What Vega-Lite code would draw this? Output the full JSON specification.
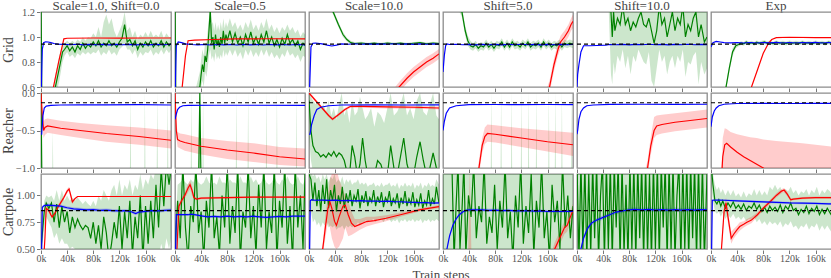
{
"$schema":"https://vega.github.io/schema/vega-lite/v6.json",
"padding":{"left":1,"right":0,"top":0,"bottom":0},
"spacing":-5.5,
"config":{
 "font":"Liberation Serif",
 "concat":{"spacing":-5.5},
 "view":{"stroke":"#8c8c8c","strokeWidth":1.3},
 "axis":{"grid":false,"domain":false,"tickColor":"#777","tickSize":3.5,"labelColor":"#555","labelFontSize":10.5,"labelFont":"Liberation Serif","titleFont":"Liberation Serif","titleFontSize":14,"titleFontWeight":"normal","titleColor":"#444","labelOverlap":false,"labelBound":false},
 "header":{"labelFont":"Liberation Serif","labelFontSize":13,"labelColor":"#444","titleFont":"Liberation Serif","titleFontSize":13,"titleFontWeight":"normal","titleColor":"#444"}
},
"vconcat":[
{
 "data":{"values":[
  {"c":1,"s":"g","x":0,"y":1.3,"l":1.3,"h":1.3},{"c":1,"s":"g","x":1.5,"y":0.4,"l":0.3,"h":0.5},{"c":1,"s":"g","x":18,"y":0.45,"l":0.35,"h":0.55},{"c":1,"s":"g","x":22,"y":0.6,"l":0.5,"h":0.7},{"c":1,"s":"g","x":28,"y":0.75,"l":0.65,"h":0.85},{"c":1,"s":"g","x":33,"y":0.88,"l":0.8,"h":0.94},{"c":1,"s":"g","x":36,"y":0.9,"l":0.85,"h":0.95},{"c":1,"s":"g","x":40,"y":0.93,"l":0.88,"h":0.97},{"c":1,"s":"g","x":44,"y":0.89,"l":0.84,"h":0.95},{"c":1,"s":"g","x":48,"y":0.92,"l":0.86,"h":0.97},{"c":1,"s":"g","x":52,"y":0.88,"l":0.83,"h":0.95},{"c":1,"s":"g","x":56,"y":0.93,"l":0.87,"h":0.98},{"c":1,"s":"g","x":60,"y":0.9,"l":0.85,"h":0.96},{"c":1,"s":"g","x":64,"y":0.95,"l":0.88,"h":1.0},{"c":1,"s":"g","x":68,"y":0.91,"l":0.86,"h":0.97},{"c":1,"s":"g","x":72,"y":0.94,"l":0.88,"h":1.0},{"c":1,"s":"g","x":76,"y":0.92,"l":0.86,"h":0.99},{"c":1,"s":"g","x":80,"y":0.96,"l":0.88,"h":1.03},{"c":1,"s":"g","x":84,"y":0.93,"l":0.87,"h":1.0},{"c":1,"s":"g","x":88,"y":0.97,"l":0.9,"h":1.08},{"c":1,"s":"g","x":92,"y":0.92,"l":0.85,"h":1.0},{"c":1,"s":"g","x":96,"y":0.95,"l":0.88,"h":1.12},{"c":1,"s":"g","x":100,"y":0.93,"l":0.86,"h":1.18},{"c":1,"s":"g","x":104,"y":0.97,"l":0.9,"h":1.1},{"c":1,"s":"g","x":108,"y":0.93,"l":0.86,"h":1.15},{"c":1,"s":"g","x":112,"y":0.95,"l":0.88,"h":1.05},{"c":1,"s":"g","x":116,"y":0.92,"l":0.85,"h":1.0},{"c":1,"s":"g","x":120,"y":0.96,"l":0.9,"h":1.05},{"c":1,"s":"g","x":124,"y":0.99,"l":0.92,"h":1.1},{"c":1,"s":"g","x":128,"y":1.1,"l":0.95,"h":1.2},{"c":1,"s":"g","x":132,"y":0.96,"l":0.9,"h":1.05},{"c":1,"s":"g","x":136,"y":0.98,"l":0.9,"h":1.08},{"c":1,"s":"g","x":140,"y":0.93,"l":0.86,"h":1.0},{"c":1,"s":"g","x":144,"y":0.97,"l":0.9,"h":1.05},{"c":1,"s":"g","x":148,"y":0.9,"l":0.83,"h":0.98},{"c":1,"s":"g","x":152,"y":0.95,"l":0.88,"h":1.02},{"c":1,"s":"g","x":156,"y":0.92,"l":0.85,"h":1.0},{"c":1,"s":"g","x":160,"y":0.96,"l":0.88,"h":1.04},{"c":1,"s":"g","x":164,"y":0.93,"l":0.87,"h":1.0},{"c":1,"s":"g","x":168,"y":0.97,"l":0.9,"h":1.05},{"c":1,"s":"g","x":172,"y":0.92,"l":0.85,"h":1.0},{"c":1,"s":"g","x":176,"y":0.95,"l":0.88,"h":1.02},{"c":1,"s":"g","x":180,"y":0.93,"l":0.86,"h":1.0},{"c":1,"s":"g","x":184,"y":0.97,"l":0.9,"h":1.05},{"c":1,"s":"g","x":188,"y":0.92,"l":0.86,"h":0.99},{"c":1,"s":"g","x":192,"y":0.96,"l":0.9,"h":1.03},{"c":1,"s":"g","x":196,"y":0.93,"l":0.87,"h":1.0},{"c":1,"s":"g","x":199,"y":0.95,"l":0.9,"h":1.0},
  {"c":1,"s":"r","x":0,"y":0.2},{"c":1,"s":"r","x":10,"y":0.35},{"c":1,"s":"r","x":19,"y":0.6},{"c":1,"s":"r","x":27,"y":0.8},{"c":1,"s":"r","x":35,"y":0.985},{"c":1,"s":"r","x":40,"y":0.99},{"c":1,"s":"r","x":80,"y":0.992},{"c":1,"s":"r","x":120,"y":0.991},{"c":1,"s":"r","x":160,"y":0.992},{"c":1,"s":"r","x":199,"y":0.992},
  {"c":1,"s":"b","x":0,"y":0.5},{"c":1,"s":"b","x":2,"y":0.9},{"c":1,"s":"b","x":4,"y":0.955},{"c":1,"s":"b","x":7,"y":0.962},{"c":1,"s":"b","x":11,"y":0.96},{"c":1,"s":"b","x":15,"y":0.955},{"c":1,"s":"b","x":20,"y":0.948},{"c":1,"s":"b","x":26,"y":0.943},{"c":1,"s":"b","x":35,"y":0.941},{"c":1,"s":"b","x":45,"y":0.938},{"c":1,"s":"b","x":55,"y":0.942},{"c":1,"s":"b","x":65,"y":0.937},{"c":1,"s":"b","x":75,"y":0.941},{"c":1,"s":"b","x":85,"y":0.938},{"c":1,"s":"b","x":95,"y":0.941},{"c":1,"s":"b","x":105,"y":0.937},{"c":1,"s":"b","x":115,"y":0.941},{"c":1,"s":"b","x":125,"y":0.938},{"c":1,"s":"b","x":135,"y":0.941},{"c":1,"s":"b","x":145,"y":0.937},{"c":1,"s":"b","x":155,"y":0.94},{"c":1,"s":"b","x":165,"y":0.937},{"c":1,"s":"b","x":175,"y":0.941},{"c":1,"s":"b","x":185,"y":0.938},{"c":1,"s":"b","x":199,"y":0.94},

  {"c":2,"s":"g","x":0,"y":1.3,"l":1.3,"h":1.3},{"c":2,"s":"g","x":1.5,"y":0.4,"l":0.3,"h":0.5},{"c":2,"s":"g","x":30,"y":0.45,"l":0.35,"h":0.55},{"c":2,"s":"g","x":38,"y":0.6,"l":0.5,"h":0.72},{"c":2,"s":"g","x":40,"y":0.7,"l":0.6,"h":0.82},{"c":2,"s":"g","x":42,"y":0.78,"l":0.65,"h":0.9},{"c":2,"s":"g","x":44,"y":0.72,"l":0.6,"h":0.85},{"c":2,"s":"g","x":46,"y":0.85,"l":0.72,"h":0.95},{"c":2,"s":"g","x":48,"y":0.8,"l":0.68,"h":0.95},{"c":2,"s":"g","x":50,"y":0.9,"l":0.75,"h":1.05},{"c":2,"s":"g","x":52,"y":1.05,"l":0.85,"h":1.15},{"c":2,"s":"g","x":54,"y":1.22,"l":0.9,"h":1.25},{"c":2,"s":"g","x":56,"y":0.95,"l":0.82,"h":1.1},{"c":2,"s":"g","x":58,"y":1.0,"l":0.85,"h":1.12},{"c":2,"s":"g","x":60,"y":0.9,"l":0.8,"h":1.05},{"c":2,"s":"g","x":62,"y":1.02,"l":0.88,"h":1.12},{"c":2,"s":"g","x":64,"y":0.93,"l":0.82,"h":1.05},{"c":2,"s":"g","x":66,"y":0.98,"l":0.85,"h":1.1},{"c":2,"s":"g","x":68,"y":0.92,"l":0.82,"h":1.05},{"c":2,"s":"g","x":70,"y":1.0,"l":0.86,"h":1.12},{"c":2,"s":"g","x":72,"y":0.94,"l":0.83,"h":1.06},{"c":2,"s":"g","x":74,"y":1.05,"l":0.9,"h":1.15},{"c":2,"s":"g","x":76,"y":0.95,"l":0.84,"h":1.07},{"c":2,"s":"g","x":78,"y":1.02,"l":0.88,"h":1.12},{"c":2,"s":"g","x":80,"y":0.97,"l":0.85,"h":1.08},{"c":2,"s":"g","x":84,"y":1.05,"l":0.9,"h":1.15},{"c":2,"s":"g","x":88,"y":0.96,"l":0.85,"h":1.08},{"c":2,"s":"g","x":92,"y":1.03,"l":0.9,"h":1.12},{"c":2,"s":"g","x":96,"y":0.95,"l":0.84,"h":1.06},{"c":2,"s":"g","x":100,"y":1.0,"l":0.88,"h":1.1},{"c":2,"s":"g","x":104,"y":0.93,"l":0.82,"h":1.05},{"c":2,"s":"g","x":108,"y":1.02,"l":0.9,"h":1.12},{"c":2,"s":"g","x":112,"y":0.96,"l":0.85,"h":1.07},{"c":2,"s":"g","x":116,"y":1.04,"l":0.9,"h":1.14},{"c":2,"s":"g","x":120,"y":0.95,"l":0.84,"h":1.06},{"c":2,"s":"g","x":124,"y":1.0,"l":0.88,"h":1.1},{"c":2,"s":"g","x":128,"y":0.94,"l":0.84,"h":1.05},{"c":2,"s":"g","x":132,"y":1.02,"l":0.9,"h":1.12},{"c":2,"s":"g","x":136,"y":0.96,"l":0.85,"h":1.07},{"c":2,"s":"g","x":140,"y":1.05,"l":0.9,"h":1.15},{"c":2,"s":"g","x":144,"y":0.95,"l":0.84,"h":1.06},{"c":2,"s":"g","x":148,"y":1.0,"l":0.88,"h":1.1},{"c":2,"s":"g","x":152,"y":0.93,"l":0.83,"h":1.04},{"c":2,"s":"g","x":156,"y":0.98,"l":0.86,"h":1.08},{"c":2,"s":"g","x":160,"y":0.92,"l":0.82,"h":1.03},{"c":2,"s":"g","x":164,"y":0.99,"l":0.87,"h":1.08},{"c":2,"s":"g","x":168,"y":0.94,"l":0.84,"h":1.05},{"c":2,"s":"g","x":172,"y":1.02,"l":0.9,"h":1.1},{"c":2,"s":"g","x":176,"y":0.95,"l":0.85,"h":1.05},{"c":2,"s":"g","x":180,"y":0.98,"l":0.87,"h":1.08},{"c":2,"s":"g","x":184,"y":0.93,"l":0.83,"h":1.03},{"c":2,"s":"g","x":188,"y":0.97,"l":0.86,"h":1.06},{"c":2,"s":"g","x":192,"y":0.9,"l":0.8,"h":1.0},{"c":2,"s":"g","x":196,"y":0.95,"l":0.85,"h":1.04},{"c":2,"s":"g","x":199,"y":0.93,"l":0.84,"h":1.02},
  {"c":2,"s":"r","x":0,"y":0.2},{"c":2,"s":"r","x":8,"y":0.4},{"c":2,"s":"r","x":11,"y":0.6},{"c":2,"s":"r","x":16,"y":0.85},{"c":2,"s":"r","x":20,"y":0.97},{"c":2,"s":"r","x":30,"y":0.975},{"c":2,"s":"r","x":60,"y":0.98},{"c":2,"s":"r","x":90,"y":0.985},{"c":2,"s":"r","x":140,"y":0.986},{"c":2,"s":"r","x":199,"y":0.985},
  {"c":2,"s":"b","x":0,"y":0.5},{"c":2,"s":"b","x":2,"y":0.93},{"c":2,"s":"b","x":5,"y":0.96},{"c":2,"s":"b","x":10,"y":0.955},{"c":2,"s":"b","x":16,"y":0.945},{"c":2,"s":"b","x":25,"y":0.94},{"c":2,"s":"b","x":35,"y":0.937},{"c":2,"s":"b","x":45,"y":0.94},{"c":2,"s":"b","x":55,"y":0.936},{"c":2,"s":"b","x":65,"y":0.94},{"c":2,"s":"b","x":75,"y":0.937},{"c":2,"s":"b","x":85,"y":0.94},{"c":2,"s":"b","x":95,"y":0.936},{"c":2,"s":"b","x":105,"y":0.94},{"c":2,"s":"b","x":115,"y":0.937},{"c":2,"s":"b","x":125,"y":0.94},{"c":2,"s":"b","x":135,"y":0.936},{"c":2,"s":"b","x":145,"y":0.94},{"c":2,"s":"b","x":155,"y":0.937},{"c":2,"s":"b","x":165,"y":0.94},{"c":2,"s":"b","x":175,"y":0.936},{"c":2,"s":"b","x":185,"y":0.94},{"c":2,"s":"b","x":199,"y":0.937},

  {"c":3,"s":"g","x":0,"y":1.6,"l":1.58,"h":1.62},{"c":3,"s":"g","x":20,"y":1.35,"l":1.33,"h":1.37},{"c":3,"s":"g","x":37,"y":1.2,"l":1.18,"h":1.22},{"c":3,"s":"g","x":45,"y":1.1,"l":1.08,"h":1.12},{"c":3,"s":"g","x":52,"y":1.02,"l":1.0,"h":1.04},{"c":3,"s":"g","x":58,"y":0.98,"l":0.965,"h":0.995},{"c":3,"s":"g","x":64,"y":0.955,"l":0.94,"h":0.97},{"c":3,"s":"g","x":70,"y":0.948,"l":0.938,"h":0.958},{"c":3,"s":"g","x":80,"y":0.952,"l":0.942,"h":0.962},{"c":3,"s":"g","x":90,"y":0.945,"l":0.935,"h":0.955},{"c":3,"s":"g","x":100,"y":0.951,"l":0.941,"h":0.961},{"c":3,"s":"g","x":110,"y":0.944,"l":0.934,"h":0.954},{"c":3,"s":"g","x":120,"y":0.952,"l":0.942,"h":0.962},{"c":3,"s":"g","x":130,"y":0.946,"l":0.936,"h":0.956},{"c":3,"s":"g","x":140,"y":0.951,"l":0.941,"h":0.961},{"c":3,"s":"g","x":150,"y":0.944,"l":0.934,"h":0.954},{"c":3,"s":"g","x":160,"y":0.95,"l":0.94,"h":0.96},{"c":3,"s":"g","x":170,"y":0.955,"l":0.945,"h":0.965},{"c":3,"s":"g","x":180,"y":0.946,"l":0.936,"h":0.956},{"c":3,"s":"g","x":190,"y":0.952,"l":0.942,"h":0.962},{"c":3,"s":"g","x":199,"y":0.948,"l":0.938,"h":0.958},
  {"c":3,"s":"r","x":0,"y":0.0,"l":-0.04,"h":0.04},{"c":3,"s":"r","x":100,"y":0.35,"l":0.31,"h":0.39},{"c":3,"s":"r","x":138,"y":0.6,"l":0.56,"h":0.64},{"c":3,"s":"r","x":150,"y":0.67,"l":0.63,"h":0.71},{"c":3,"s":"r","x":160,"y":0.72,"l":0.68,"h":0.76},{"c":3,"s":"r","x":170,"y":0.76,"l":0.72,"h":0.8},{"c":3,"s":"r","x":180,"y":0.8,"l":0.76,"h":0.84},{"c":3,"s":"r","x":190,"y":0.83,"l":0.79,"h":0.87},{"c":3,"s":"r","x":199,"y":0.865,"l":0.825,"h":0.905},
  {"c":3,"s":"b","x":0,"y":0.3},{"c":3,"s":"b","x":1,"y":0.6},{"c":3,"s":"b","x":3,"y":0.92},{"c":3,"s":"b","x":6,"y":0.95},{"c":3,"s":"b","x":10,"y":0.952},{"c":3,"s":"b","x":20,"y":0.945},{"c":3,"s":"b","x":28,"y":0.935},{"c":3,"s":"b","x":35,"y":0.928},{"c":3,"s":"b","x":42,"y":0.935},{"c":3,"s":"b","x":50,"y":0.945},{"c":3,"s":"b","x":60,"y":0.942},{"c":3,"s":"b","x":70,"y":0.946},{"c":3,"s":"b","x":80,"y":0.942},{"c":3,"s":"b","x":90,"y":0.945},{"c":3,"s":"b","x":100,"y":0.941},{"c":3,"s":"b","x":110,"y":0.945},{"c":3,"s":"b","x":120,"y":0.942},{"c":3,"s":"b","x":130,"y":0.946},{"c":3,"s":"b","x":140,"y":0.942},{"c":3,"s":"b","x":150,"y":0.945},{"c":3,"s":"b","x":160,"y":0.941},{"c":3,"s":"b","x":170,"y":0.945},{"c":3,"s":"b","x":180,"y":0.942},{"c":3,"s":"b","x":190,"y":0.945},{"c":3,"s":"b","x":199,"y":0.942},

  {"c":4,"s":"g","x":0,"y":1.7,"l":1.65,"h":1.75},{"c":4,"s":"g","x":20,"y":1.3,"l":1.26,"h":1.34},{"c":4,"s":"g","x":29,"y":1.2,"l":1.16,"h":1.24},{"c":4,"s":"g","x":34,"y":1.05,"l":1.01,"h":1.09},{"c":4,"s":"g","x":38,"y":0.97,"l":0.93,"h":1.01},{"c":4,"s":"g","x":42,"y":0.93,"l":0.9,"h":0.97},{"c":4,"s":"g","x":46,"y":0.92,"l":0.89,"h":0.95},{"c":4,"s":"g","x":50,"y":0.94,"l":0.91,"h":0.97},{"c":4,"s":"g","x":54,"y":0.91,"l":0.88,"h":0.94},{"c":4,"s":"g","x":58,"y":0.93,"l":0.9,"h":0.96},{"c":4,"s":"g","x":62,"y":0.92,"l":0.89,"h":0.95},{"c":4,"s":"g","x":66,"y":0.95,"l":0.92,"h":0.98},{"c":4,"s":"g","x":70,"y":0.92,"l":0.89,"h":0.95},{"c":4,"s":"g","x":74,"y":0.94,"l":0.91,"h":0.97},{"c":4,"s":"g","x":78,"y":0.91,"l":0.88,"h":0.94},{"c":4,"s":"g","x":82,"y":0.94,"l":0.91,"h":0.97},{"c":4,"s":"g","x":86,"y":0.93,"l":0.9,"h":0.96},{"c":4,"s":"g","x":90,"y":0.96,"l":0.93,"h":0.99},{"c":4,"s":"g","x":94,"y":0.92,"l":0.89,"h":0.95},{"c":4,"s":"g","x":98,"y":0.95,"l":0.92,"h":0.98},{"c":4,"s":"g","x":102,"y":0.92,"l":0.89,"h":0.95},{"c":4,"s":"g","x":106,"y":0.96,"l":0.93,"h":0.99},{"c":4,"s":"g","x":110,"y":0.93,"l":0.9,"h":0.96},{"c":4,"s":"g","x":114,"y":0.94,"l":0.91,"h":0.97},{"c":4,"s":"g","x":118,"y":0.92,"l":0.89,"h":0.95},{"c":4,"s":"g","x":122,"y":0.95,"l":0.92,"h":0.98},{"c":4,"s":"g","x":126,"y":0.93,"l":0.9,"h":0.96},{"c":4,"s":"g","x":130,"y":0.96,"l":0.93,"h":0.99},{"c":4,"s":"g","x":134,"y":0.92,"l":0.89,"h":0.95},{"c":4,"s":"g","x":138,"y":0.94,"l":0.91,"h":0.97},{"c":4,"s":"g","x":142,"y":0.93,"l":0.9,"h":0.96},{"c":4,"s":"g","x":146,"y":0.95,"l":0.92,"h":0.98},{"c":4,"s":"g","x":150,"y":0.92,"l":0.89,"h":0.95},{"c":4,"s":"g","x":154,"y":0.96,"l":0.93,"h":0.99},{"c":4,"s":"g","x":158,"y":0.93,"l":0.9,"h":0.96},{"c":4,"s":"g","x":162,"y":0.95,"l":0.92,"h":0.98},{"c":4,"s":"g","x":166,"y":0.92,"l":0.89,"h":0.95},{"c":4,"s":"g","x":170,"y":0.94,"l":0.91,"h":0.97},{"c":4,"s":"g","x":174,"y":0.93,"l":0.9,"h":0.96},{"c":4,"s":"g","x":178,"y":0.95,"l":0.92,"h":0.98},{"c":4,"s":"g","x":182,"y":0.92,"l":0.89,"h":0.95},{"c":4,"s":"g","x":186,"y":0.95,"l":0.92,"h":0.98},{"c":4,"s":"g","x":190,"y":0.94,"l":0.91,"h":0.97},{"c":4,"s":"g","x":194,"y":0.95,"l":0.92,"h":0.98},{"c":4,"s":"g","x":199,"y":0.94,"l":0.91,"h":0.97},
  {"c":4,"s":"r","x":150,"y":0.4,"l":0.35,"h":0.45},{"c":4,"s":"r","x":163,"y":0.6,"l":0.55,"h":0.65},{"c":4,"s":"r","x":170,"y":0.78,"l":0.73,"h":0.83},{"c":4,"s":"r","x":176,"y":0.9,"l":0.85,"h":0.95},{"c":4,"s":"r","x":180,"y":0.96,"l":0.91,"h":1.01},{"c":4,"s":"r","x":186,"y":1.0,"l":0.95,"h":1.05},{"c":4,"s":"r","x":192,"y":1.05,"l":1.0,"h":1.1},{"c":4,"s":"r","x":196,"y":1.1,"l":1.05,"h":1.15},{"c":4,"s":"r","x":199,"y":1.125,"l":1.07,"h":1.18},
  {"c":4,"s":"b","x":0,"y":0.72},{"c":4,"s":"b","x":2,"y":0.85},{"c":4,"s":"b","x":4,"y":0.93},{"c":4,"s":"b","x":6,"y":0.945},{"c":4,"s":"b","x":10,"y":0.94},{"c":4,"s":"b","x":20,"y":0.942},{"c":4,"s":"b","x":30,"y":0.938},{"c":4,"s":"b","x":40,"y":0.941},{"c":4,"s":"b","x":50,"y":0.937},{"c":4,"s":"b","x":60,"y":0.941},{"c":4,"s":"b","x":70,"y":0.938},{"c":4,"s":"b","x":80,"y":0.941},{"c":4,"s":"b","x":90,"y":0.937},{"c":4,"s":"b","x":100,"y":0.941},{"c":4,"s":"b","x":110,"y":0.938},{"c":4,"s":"b","x":120,"y":0.942},{"c":4,"s":"b","x":130,"y":0.938},{"c":4,"s":"b","x":140,"y":0.941},{"c":4,"s":"b","x":150,"y":0.937},{"c":4,"s":"b","x":160,"y":0.941},{"c":4,"s":"b","x":170,"y":0.938},{"c":4,"s":"b","x":180,"y":0.941},{"c":4,"s":"b","x":190,"y":0.938},{"c":4,"s":"b","x":199,"y":0.941},

  {"c":5,"s":"g","x":48,"y":1.5,"l":1.3,"h":1.6},{"c":5,"s":"g","x":52,"y":1.2,"l":0.7,"h":1.3},{"c":5,"s":"g","x":54,"y":1.0,"l":0.62,"h":1.3},{"c":5,"s":"g","x":56,"y":1.2,"l":0.8,"h":1.3},{"c":5,"s":"g","x":58,"y":1.05,"l":0.7,"h":1.3},{"c":5,"s":"g","x":62,"y":1.15,"l":0.85,"h":1.3},{"c":5,"s":"g","x":66,"y":1.1,"l":0.8,"h":1.3},{"c":5,"s":"g","x":70,"y":1.25,"l":0.9,"h":1.3},{"c":5,"s":"g","x":74,"y":1.1,"l":0.75,"h":1.3},{"c":5,"s":"g","x":78,"y":1.15,"l":0.85,"h":1.3},{"c":5,"s":"g","x":82,"y":1.05,"l":0.7,"h":1.3},{"c":5,"s":"g","x":86,"y":1.12,"l":0.85,"h":1.3},{"c":5,"s":"g","x":90,"y":1.08,"l":0.8,"h":1.3},{"c":5,"s":"g","x":94,"y":1.15,"l":0.9,"h":1.3},{"c":5,"s":"g","x":98,"y":1.2,"l":0.85,"h":1.3},{"c":5,"s":"g","x":102,"y":1.1,"l":0.8,"h":1.3},{"c":5,"s":"g","x":106,"y":1.08,"l":0.78,"h":1.3},{"c":5,"s":"g","x":110,"y":1.15,"l":0.88,"h":1.3},{"c":5,"s":"g","x":114,"y":1.05,"l":0.65,"h":1.3},{"c":5,"s":"g","x":118,"y":0.95,"l":0.6,"h":1.25},{"c":5,"s":"g","x":122,"y":1.05,"l":0.75,"h":1.3},{"c":5,"s":"g","x":126,"y":1.25,"l":0.9,"h":1.3},{"c":5,"s":"g","x":130,"y":1.1,"l":0.8,"h":1.3},{"c":5,"s":"g","x":134,"y":1.15,"l":0.85,"h":1.3},{"c":5,"s":"g","x":138,"y":1.0,"l":0.7,"h":1.3},{"c":5,"s":"g","x":142,"y":1.1,"l":0.8,"h":1.3},{"c":5,"s":"g","x":146,"y":1.2,"l":0.85,"h":1.3},{"c":5,"s":"g","x":150,"y":1.05,"l":0.75,"h":1.3},{"c":5,"s":"g","x":154,"y":1.15,"l":0.85,"h":1.3},{"c":5,"s":"g","x":158,"y":1.1,"l":0.8,"h":1.3},{"c":5,"s":"g","x":162,"y":1.25,"l":0.9,"h":1.3},{"c":5,"s":"g","x":166,"y":1.0,"l":0.68,"h":1.3},{"c":5,"s":"g","x":170,"y":1.1,"l":0.8,"h":1.3},{"c":5,"s":"g","x":174,"y":1.05,"l":0.78,"h":1.3},{"c":5,"s":"g","x":178,"y":1.15,"l":0.85,"h":1.3},{"c":5,"s":"g","x":182,"y":1.2,"l":0.88,"h":1.3},{"c":5,"s":"g","x":186,"y":1.0,"l":0.62,"h":1.3},{"c":5,"s":"g","x":190,"y":1.1,"l":0.8,"h":1.3},{"c":5,"s":"g","x":195,"y":0.96,"l":0.7,"h":1.3},{"c":5,"s":"g","x":199,"y":1.0,"l":0.75,"h":1.3},
  {"c":5,"s":"b","x":0,"y":0.6},{"c":5,"s":"b","x":1,"y":0.7},{"c":5,"s":"b","x":3,"y":0.78},{"c":5,"s":"b","x":6,"y":0.88},{"c":5,"s":"b","x":10,"y":0.93},{"c":5,"s":"b","x":20,"y":0.93},{"c":5,"s":"b","x":30,"y":0.932},{"c":5,"s":"b","x":44,"y":0.935},{"c":5,"s":"b","x":50,"y":0.94},{"c":5,"s":"b","x":60,"y":0.938},{"c":5,"s":"b","x":70,"y":0.941},{"c":5,"s":"b","x":80,"y":0.937},{"c":5,"s":"b","x":90,"y":0.941},{"c":5,"s":"b","x":100,"y":0.938},{"c":5,"s":"b","x":110,"y":0.942},{"c":5,"s":"b","x":120,"y":0.938},{"c":5,"s":"b","x":130,"y":0.941},{"c":5,"s":"b","x":140,"y":0.937},{"c":5,"s":"b","x":150,"y":0.941},{"c":5,"s":"b","x":160,"y":0.938},{"c":5,"s":"b","x":170,"y":0.942},{"c":5,"s":"b","x":180,"y":0.938},{"c":5,"s":"b","x":190,"y":0.941},{"c":5,"s":"b","x":199,"y":0.939},

  {"c":6,"s":"g","x":0,"y":0.3,"l":0.28,"h":0.32},{"c":6,"s":"g","x":18,"y":0.45,"l":0.42,"h":0.48},{"c":6,"s":"g","x":23,"y":0.6,"l":0.57,"h":0.63},{"c":6,"s":"g","x":28,"y":0.75,"l":0.72,"h":0.78},{"c":6,"s":"g","x":33,"y":0.88,"l":0.85,"h":0.91},{"c":6,"s":"g","x":38,"y":0.93,"l":0.91,"h":0.95},{"c":6,"s":"g","x":42,"y":0.94,"l":0.925,"h":0.955},{"c":6,"s":"g","x":46,"y":0.952,"l":0.937,"h":0.967},{"c":6,"s":"g","x":50,"y":0.945,"l":0.93,"h":0.96},{"c":6,"s":"g","x":54,"y":0.96,"l":0.945,"h":0.975},{"c":6,"s":"g","x":58,"y":0.948,"l":0.933,"h":0.963},{"c":6,"s":"g","x":62,"y":0.955,"l":0.94,"h":0.97},{"c":6,"s":"g","x":66,"y":0.946,"l":0.931,"h":0.961},{"c":6,"s":"g","x":70,"y":0.958,"l":0.943,"h":0.973},{"c":6,"s":"g","x":74,"y":0.95,"l":0.935,"h":0.965},{"c":6,"s":"g","x":78,"y":0.955,"l":0.94,"h":0.97},{"c":6,"s":"g","x":82,"y":0.96,"l":0.945,"h":0.975},{"c":6,"s":"g","x":86,"y":0.95,"l":0.935,"h":0.965},{"c":6,"s":"g","x":90,"y":0.957,"l":0.942,"h":0.972},{"c":6,"s":"g","x":95,"y":0.948,"l":0.933,"h":0.963},{"c":6,"s":"g","x":100,"y":0.958,"l":0.943,"h":0.973},{"c":6,"s":"g","x":105,"y":0.95,"l":0.935,"h":0.965},{"c":6,"s":"g","x":110,"y":0.956,"l":0.941,"h":0.971},{"c":6,"s":"g","x":115,"y":0.948,"l":0.933,"h":0.963},{"c":6,"s":"g","x":120,"y":0.957,"l":0.942,"h":0.972},{"c":6,"s":"g","x":125,"y":0.95,"l":0.935,"h":0.965},{"c":6,"s":"g","x":130,"y":0.956,"l":0.941,"h":0.971},{"c":6,"s":"g","x":135,"y":0.949,"l":0.934,"h":0.964},{"c":6,"s":"g","x":140,"y":0.958,"l":0.943,"h":0.973},{"c":6,"s":"g","x":145,"y":0.95,"l":0.935,"h":0.965},{"c":6,"s":"g","x":150,"y":0.955,"l":0.94,"h":0.97},{"c":6,"s":"g","x":155,"y":0.948,"l":0.933,"h":0.963},{"c":6,"s":"g","x":160,"y":0.957,"l":0.942,"h":0.972},{"c":6,"s":"g","x":165,"y":0.95,"l":0.935,"h":0.965},{"c":6,"s":"g","x":170,"y":0.956,"l":0.941,"h":0.971},{"c":6,"s":"g","x":175,"y":0.948,"l":0.933,"h":0.963},{"c":6,"s":"g","x":180,"y":0.958,"l":0.943,"h":0.973},{"c":6,"s":"g","x":185,"y":0.95,"l":0.935,"h":0.965},{"c":6,"s":"g","x":190,"y":0.962,"l":0.947,"h":0.977},{"c":6,"s":"g","x":195,"y":0.95,"l":0.935,"h":0.965},{"c":6,"s":"g","x":199,"y":0.955,"l":0.94,"h":0.97},
  {"c":6,"s":"r","x":40,"y":0.2},{"c":6,"s":"r","x":62,"y":0.6},{"c":6,"s":"r","x":72,"y":0.75},{"c":6,"s":"r","x":80,"y":0.87},{"c":6,"s":"r","x":88,"y":0.95},{"c":6,"s":"r","x":93,"y":0.98},{"c":6,"s":"r","x":100,"y":0.995},{"c":6,"s":"r","x":120,"y":0.998},{"c":6,"s":"r","x":160,"y":0.995},{"c":6,"s":"r","x":199,"y":0.996},
  {"c":6,"s":"b","x":0,"y":0.92},{"c":6,"s":"b","x":3,"y":0.955},{"c":6,"s":"b","x":8,"y":0.965},{"c":6,"s":"b","x":14,"y":0.96},{"c":6,"s":"b","x":20,"y":0.955},{"c":6,"s":"b","x":30,"y":0.953},{"c":6,"s":"b","x":40,"y":0.956},{"c":6,"s":"b","x":50,"y":0.952},{"c":6,"s":"b","x":60,"y":0.956},{"c":6,"s":"b","x":70,"y":0.952},{"c":6,"s":"b","x":80,"y":0.956},{"c":6,"s":"b","x":90,"y":0.953},{"c":6,"s":"b","x":100,"y":0.957},{"c":6,"s":"b","x":110,"y":0.952},{"c":6,"s":"b","x":120,"y":0.956},{"c":6,"s":"b","x":130,"y":0.952},{"c":6,"s":"b","x":140,"y":0.956},{"c":6,"s":"b","x":150,"y":0.953},{"c":6,"s":"b","x":160,"y":0.957},{"c":6,"s":"b","x":170,"y":0.952},{"c":6,"s":"b","x":180,"y":0.956},{"c":6,"s":"b","x":190,"y":0.953},{"c":6,"s":"b","x":199,"y":0.956},

  {"c":1,"s":"k","x":0,"y":0.943},{"c":1,"s":"k","x":199,"y":0.943},{"c":2,"s":"k","x":0,"y":0.943},{"c":2,"s":"k","x":199,"y":0.943},{"c":3,"s":"k","x":0,"y":0.943},{"c":3,"s":"k","x":199,"y":0.943},{"c":4,"s":"k","x":0,"y":0.943},{"c":4,"s":"k","x":199,"y":0.943},{"c":5,"s":"k","x":0,"y":0.943},{"c":5,"s":"k","x":199,"y":0.943},{"c":6,"s":"k","x":0,"y":0.943},{"c":6,"s":"k","x":199,"y":0.943}
 ]},
 "facet":{"column":{"field":"c","type":"ordinal","title":null,"header":{"labelExpr":"['','Scale=1.0, Shift=0.0','Scale=0.5','Scale=10.0','Shift=5.0','Shift=10.0','Exp'][datum.value]","labelPadding":-2}}},
 "spacing":2,
 "spec":{
  "width":130,"height":75,
  "encoding":{"x":{"field":"x","type":"quantitative","scale":{"domain":[0,199],"nice":false,"zero":false},"axis":{"values":[0,40,80,120,160],"labels":false,"title":null,"minExtent":3.5,"maxExtent":3.5}}},
  "layer":[
   {"transform":[{"filter":"isValid(datum.l)"}],"mark":{"type":"area","clip":true,"opacity":0.2},
    "encoding":{"y":{"field":"l","type":"quantitative","title":"Grid","scale":{"domain":[0.6,1.2],"nice":false,"zero":false},"axis":{"values":[0.6,0.8,1.0,1.2],"format":".1f","minExtent":24,"maxExtent":24,"titlePadding":1,"labelPadding":2,"labelOverlap":false,"labelBound":false,"labelFlush":false}},"y2":{"field":"h"},
     "color":{"field":"s","type":"nominal","scale":{"domain":["g","r","b"],"range":["#008000","#ff0000","#0000ff"]},"legend":null}}},
   {"transform":[{"filter":"datum.s!='k'"}],"mark":{"type":"line","clip":true,"strokeWidth":1.2},
    "encoding":{"y":{"field":"y","type":"quantitative","title":"Grid","axis":{"values":[0.6,0.8,1.0,1.2],"format":".1f","minExtent":24,"maxExtent":24,"titlePadding":1,"labelPadding":2,"labelOverlap":false,"labelBound":false,"labelFlush":false}},"color":{"field":"s","type":"nominal","legend":null}}},
   {"transform":[{"filter":"datum.s=='k'"}],"mark":{"type":"line","clip":true,"color":"#000000","strokeDash":[4,3],"strokeWidth":1.2},
    "encoding":{"y":{"field":"y","type":"quantitative","title":"Grid","axis":{"values":[0.6,0.8,1.0,1.2],"format":".1f","minExtent":24,"maxExtent":24,"titlePadding":1,"labelPadding":2,"labelOverlap":false,"labelBound":false,"labelFlush":false}}}}
  ]
 }
},
{
 "data":{"values":[
  {"c":1,"s":"g","x":0,"y":0.05,"l":-1.4,"h":-1.2},{"c":1,"s":"g","x":1.5,"y":-1.3,"l":-1.4,"h":-1.2},{"c":1,"s":"g","x":17,"y":-1.3,"l":-1.4,"h":-1.2},{"c":1,"s":"g","x":18,"y":-1.3,"l":-1.4,"h":-0.5},{"c":1,"s":"g","x":19,"y":-1.3,"l":-1.4,"h":-1.2},{"c":1,"s":"g","x":136,"y":-1.3,"l":-1.4,"h":-1.2},{"c":1,"s":"g","x":137,"y":-1.3,"l":-1.4,"h":0.05},{"c":1,"s":"g","x":138,"y":-1.3,"l":-1.4,"h":-1.2},{"c":1,"s":"g","x":158,"y":-1.3,"l":-1.4,"h":-1.2},{"c":1,"s":"g","x":159,"y":-1.3,"l":-1.4,"h":0.05},{"c":1,"s":"g","x":160,"y":-1.3,"l":-1.4,"h":-1.2},{"c":1,"s":"g","x":177,"y":-1.3,"l":-1.4,"h":-1.2},{"c":1,"s":"g","x":178,"y":-1.3,"l":-1.4,"h":0.05},{"c":1,"s":"g","x":179,"y":-1.3,"l":-1.4,"h":-1.2},{"c":1,"s":"g","x":193,"y":-1.3,"l":-1.4,"h":-1.2},{"c":1,"s":"g","x":194,"y":-1.3,"l":-1.4,"h":0.05},{"c":1,"s":"g","x":195,"y":-1.3,"l":-1.4,"h":-1.2},{"c":1,"s":"g","x":199,"y":-1.3,"l":-1.4,"h":-1.2},
  {"c":1,"s":"r","x":0,"y":0.0,"l":-0.1,"h":0.05},{"c":1,"s":"r","x":2,"y":-0.3,"l":-0.4,"h":-0.2},{"c":1,"s":"r","x":4,"y":-0.5,"l":-0.6,"h":-0.38},{"c":1,"s":"r","x":6,"y":-0.46,"l":-0.56,"h":-0.35},{"c":1,"s":"r","x":10,"y":-0.44,"l":-0.53,"h":-0.34},{"c":1,"s":"r","x":30,"y":-0.47,"l":-0.56,"h":-0.37},{"c":1,"s":"r","x":60,"y":-0.5,"l":-0.6,"h":-0.4},{"c":1,"s":"r","x":100,"y":-0.54,"l":-0.65,"h":-0.43},{"c":1,"s":"r","x":150,"y":-0.58,"l":-0.69,"h":-0.46},{"c":1,"s":"r","x":199,"y":-0.63,"l":-0.74,"h":-0.5},
  {"c":1,"s":"b","x":0,"y":-0.55},{"c":1,"s":"b","x":1,"y":-0.55},{"c":1,"s":"b","x":3,"y":-0.3},{"c":1,"s":"b","x":5,"y":-0.2},{"c":1,"s":"b","x":8,"y":-0.175},{"c":1,"s":"b","x":15,"y":-0.165},{"c":1,"s":"b","x":30,"y":-0.16},{"c":1,"s":"b","x":60,"y":-0.158},{"c":1,"s":"b","x":100,"y":-0.157},{"c":1,"s":"b","x":150,"y":-0.156},{"c":1,"s":"b","x":199,"y":-0.16},

  {"c":2,"s":"g","x":0,"y":-1.3,"l":-1.4,"h":-1.2},{"c":2,"s":"g","x":24,"y":-1.3,"l":-1.4,"h":-1.2},{"c":2,"s":"g","x":25,"y":-1.3,"l":-1.4,"h":0.05},{"c":2,"s":"g","x":26,"y":-1.3,"l":-1.4,"h":-1.2},{"c":2,"s":"g","x":36,"y":-1.3,"l":-1.4,"h":-1.2},{"c":2,"s":"g","x":38,"y":0.0,"l":-1.4,"h":0.05},{"c":2,"s":"g","x":40,"y":-1.3,"l":-1.4,"h":-1.2},{"c":2,"s":"g","x":42,"y":-1.3,"l":-1.4,"h":-1.2},{"c":2,"s":"g","x":43,"y":-1.3,"l":-1.4,"h":0.05},{"c":2,"s":"g","x":44,"y":-1.3,"l":-1.4,"h":-1.2},{"c":2,"s":"g","x":93,"y":-1.3,"l":-1.4,"h":-1.2},{"c":2,"s":"g","x":94,"y":-1.3,"l":-1.4,"h":0.05},{"c":2,"s":"g","x":95,"y":-1.3,"l":-1.4,"h":-1.2},{"c":2,"s":"g","x":111,"y":-1.3,"l":-1.4,"h":-1.2},{"c":2,"s":"g","x":112,"y":-1.3,"l":-1.4,"h":0.05},{"c":2,"s":"g","x":113,"y":-1.3,"l":-1.4,"h":-1.2},{"c":2,"s":"g","x":139,"y":-1.3,"l":-1.4,"h":-1.2},{"c":2,"s":"g","x":140,"y":-1.3,"l":-1.4,"h":0.05},{"c":2,"s":"g","x":141,"y":-1.3,"l":-1.4,"h":-1.2},{"c":2,"s":"g","x":155,"y":-1.3,"l":-1.4,"h":-1.2},{"c":2,"s":"g","x":156,"y":-1.3,"l":-1.4,"h":0.05},{"c":2,"s":"g","x":157,"y":-1.3,"l":-1.4,"h":-1.2},{"c":2,"s":"g","x":185,"y":-1.3,"l":-1.4,"h":-1.2},{"c":2,"s":"g","x":186,"y":-1.3,"l":-1.4,"h":0.05},{"c":2,"s":"g","x":187,"y":-1.3,"l":-1.4,"h":-1.2},{"c":2,"s":"g","x":199,"y":-1.3,"l":-1.4,"h":-1.2},
  {"c":2,"s":"r","x":0,"y":0.0,"l":-0.05,"h":0.05},{"c":2,"s":"r","x":2,"y":-0.5,"l":-0.6,"h":-0.4},{"c":2,"s":"r","x":4,"y":-0.62,"l":-0.72,"h":-0.52},{"c":2,"s":"r","x":8,"y":-0.64,"l":-0.74,"h":-0.54},{"c":2,"s":"r","x":15,"y":-0.66,"l":-0.77,"h":-0.55},{"c":2,"s":"r","x":25,"y":-0.68,"l":-0.79,"h":-0.57},{"c":2,"s":"r","x":40,"y":-0.71,"l":-0.82,"h":-0.6},{"c":2,"s":"r","x":80,"y":-0.76,"l":-0.88,"h":-0.64},{"c":2,"s":"r","x":120,"y":-0.8,"l":-0.92,"h":-0.67},{"c":2,"s":"r","x":160,"y":-0.85,"l":-0.96,"h":-0.72},{"c":2,"s":"r","x":199,"y":-0.88,"l":-0.98,"h":-0.74},
  {"c":2,"s":"b","x":0,"y":-0.35},{"c":2,"s":"b","x":2,"y":-0.28},{"c":2,"s":"b","x":4,"y":-0.22},{"c":2,"s":"b","x":7,"y":-0.19},{"c":2,"s":"b","x":12,"y":-0.17},{"c":2,"s":"b","x":20,"y":-0.165},{"c":2,"s":"b","x":60,"y":-0.163},{"c":2,"s":"b","x":120,"y":-0.163},{"c":2,"s":"b","x":199,"y":-0.165},

  {"c":3,"s":"g","x":0,"y":-0.1,"l":-0.6,"h":0.0},{"c":3,"s":"g","x":3,"y":-0.5,"l":-0.9,"h":-0.05},{"c":3,"s":"g","x":6,"y":-0.7,"l":-1.05,"h":-0.1},{"c":3,"s":"g","x":10,"y":-0.78,"l":-1.1,"h":-0.15},{"c":3,"s":"g","x":14,"y":-0.8,"l":-1.1,"h":-0.12},{"c":3,"s":"g","x":18,"y":-0.85,"l":-1.1,"h":-0.2},{"c":3,"s":"g","x":22,"y":-0.82,"l":-1.1,"h":-0.15},{"c":3,"s":"g","x":26,"y":-0.86,"l":-1.1,"h":-0.25},{"c":3,"s":"g","x":30,"y":-0.8,"l":-1.1,"h":-0.1},{"c":3,"s":"g","x":34,"y":-0.84,"l":-1.1,"h":-0.3},{"c":3,"s":"g","x":38,"y":-0.78,"l":-1.1,"h":-0.2},{"c":3,"s":"g","x":42,"y":-0.85,"l":-1.1,"h":-0.35},{"c":3,"s":"g","x":46,"y":-0.8,"l":-1.1,"h":-0.15},{"c":3,"s":"g","x":50,"y":-0.83,"l":-1.1,"h":0.0},{"c":3,"s":"g","x":54,"y":-0.9,"l":-1.1,"h":-0.3},{"c":3,"s":"g","x":58,"y":-1.05,"l":-1.1,"h":-0.2},{"c":3,"s":"g","x":62,"y":-1.1,"l":-1.2,"h":-0.4},{"c":3,"s":"g","x":66,"y":-0.7,"l":-1.1,"h":-0.1},{"c":3,"s":"g","x":70,"y":-0.85,"l":-1.1,"h":-0.3},{"c":3,"s":"g","x":74,"y":-1.1,"l":-1.2,"h":-0.25},{"c":3,"s":"g","x":78,"y":-0.95,"l":-1.1,"h":-0.05},{"c":3,"s":"g","x":82,"y":-0.6,"l":-1.1,"h":-0.2},{"c":3,"s":"g","x":86,"y":-0.9,"l":-1.1,"h":-0.35},{"c":3,"s":"g","x":90,"y":-1.1,"l":-1.2,"h":-0.3},{"c":3,"s":"g","x":95,"y":-1.05,"l":-1.2,"h":-0.2},{"c":3,"s":"g","x":100,"y":-1.1,"l":-1.2,"h":-0.45},{"c":3,"s":"g","x":105,"y":-0.9,"l":-1.1,"h":-0.25},{"c":3,"s":"g","x":110,"y":-0.95,"l":-1.1,"h":-0.3},{"c":3,"s":"g","x":115,"y":-1.1,"l":-1.2,"h":-0.4},{"c":3,"s":"g","x":120,"y":-1.1,"l":-1.2,"h":-0.2},{"c":3,"s":"g","x":125,"y":-0.7,"l":-1.1,"h":0.0},{"c":3,"s":"g","x":130,"y":-1.0,"l":-1.2,"h":-0.3},{"c":3,"s":"g","x":135,"y":-1.1,"l":-1.2,"h":-0.25},{"c":3,"s":"g","x":140,"y":-0.85,"l":-1.1,"h":-0.15},{"c":3,"s":"g","x":145,"y":-0.6,"l":-1.1,"h":0.0},{"c":3,"s":"g","x":150,"y":-0.95,"l":-1.1,"h":-0.3},{"c":3,"s":"g","x":155,"y":-1.1,"l":-1.2,"h":-0.2},{"c":3,"s":"g","x":160,"y":-1.1,"l":-1.2,"h":-0.35},{"c":3,"s":"g","x":165,"y":-0.85,"l":-1.1,"h":-0.1},{"c":3,"s":"g","x":170,"y":-0.65,"l":-1.1,"h":0.0},{"c":3,"s":"g","x":175,"y":-0.9,"l":-1.1,"h":-0.25},{"c":3,"s":"g","x":180,"y":-1.1,"l":-1.2,"h":-0.3},{"c":3,"s":"g","x":185,"y":-1.0,"l":-1.2,"h":-0.15},{"c":3,"s":"g","x":190,"y":-0.8,"l":-1.1,"h":0.0},{"c":3,"s":"g","x":195,"y":-1.0,"l":-1.2,"h":-0.3},{"c":3,"s":"g","x":199,"y":-1.05,"l":-1.2,"h":-0.35},
  {"c":3,"s":"r","x":0,"y":0.0,"l":-0.02,"h":0.02},{"c":3,"s":"r","x":10,"y":-0.1,"l":-0.12,"h":-0.08},{"c":3,"s":"r","x":20,"y":-0.2,"l":-0.22,"h":-0.18},{"c":3,"s":"r","x":30,"y":-0.3,"l":-0.32,"h":-0.28},{"c":3,"s":"r","x":36,"y":-0.35,"l":-0.37,"h":-0.33},{"c":3,"s":"r","x":45,"y":-0.29,"l":-0.31,"h":-0.27},{"c":3,"s":"r","x":55,"y":-0.22,"l":-0.24,"h":-0.2},{"c":3,"s":"r","x":63,"y":-0.18,"l":-0.2,"h":-0.16},{"c":3,"s":"r","x":80,"y":-0.178,"l":-0.195,"h":-0.16},{"c":3,"s":"r","x":120,"y":-0.185,"l":-0.205,"h":-0.165},{"c":3,"s":"r","x":160,"y":-0.19,"l":-0.21,"h":-0.17},{"c":3,"s":"r","x":199,"y":-0.2,"l":-0.22,"h":-0.18},
  {"c":3,"s":"b","x":0,"y":-0.55},{"c":3,"s":"b","x":1.5,"y":-0.55},{"c":3,"s":"b","x":4,"y":-0.42},{"c":3,"s":"b","x":8,"y":-0.3},{"c":3,"s":"b","x":12,"y":-0.22},{"c":3,"s":"b","x":18,"y":-0.19},{"c":3,"s":"b","x":30,"y":-0.17},{"c":3,"s":"b","x":50,"y":-0.16},{"c":3,"s":"b","x":100,"y":-0.158},{"c":3,"s":"b","x":150,"y":-0.16},{"c":3,"s":"b","x":199,"y":-0.158},

  {"c":4,"s":"g","x":0,"y":-1.3,"l":-1.4,"h":-1.2},{"c":4,"s":"g","x":73,"y":-1.3,"l":-1.4,"h":-1.2},{"c":4,"s":"g","x":74,"y":-1.3,"l":-1.4,"h":0.05},{"c":4,"s":"g","x":75,"y":-1.3,"l":-1.4,"h":-1.2},{"c":4,"s":"g","x":88,"y":-1.3,"l":-1.4,"h":-1.2},{"c":4,"s":"g","x":89,"y":-1.3,"l":-1.4,"h":0.05},{"c":4,"s":"g","x":90,"y":-1.3,"l":-1.4,"h":-1.2},{"c":4,"s":"g","x":104,"y":-1.3,"l":-1.4,"h":-1.2},{"c":4,"s":"g","x":105,"y":-1.3,"l":-1.4,"h":0.05},{"c":4,"s":"g","x":106,"y":-1.3,"l":-1.4,"h":-1.2},{"c":4,"s":"g","x":119,"y":-1.3,"l":-1.4,"h":-1.2},{"c":4,"s":"g","x":120,"y":-1.3,"l":-1.4,"h":0.05},{"c":4,"s":"g","x":121,"y":-1.3,"l":-1.4,"h":-1.2},{"c":4,"s":"g","x":130,"y":-1.3,"l":-1.4,"h":-1.2},{"c":4,"s":"g","x":131,"y":-1.3,"l":-1.4,"h":0.05},{"c":4,"s":"g","x":132,"y":-1.3,"l":-1.4,"h":-1.2},{"c":4,"s":"g","x":142,"y":-1.3,"l":-1.4,"h":-1.2},{"c":4,"s":"g","x":143,"y":-1.3,"l":-1.4,"h":0.05},{"c":4,"s":"g","x":144,"y":-1.3,"l":-1.4,"h":-1.2},{"c":4,"s":"g","x":161,"y":-1.3,"l":-1.4,"h":-1.2},{"c":4,"s":"g","x":162,"y":-1.3,"l":-1.4,"h":0.05},{"c":4,"s":"g","x":163,"y":-1.3,"l":-1.4,"h":-1.2},{"c":4,"s":"g","x":171,"y":-1.3,"l":-1.4,"h":-1.2},{"c":4,"s":"g","x":172,"y":-1.3,"l":-1.4,"h":0.05},{"c":4,"s":"g","x":173,"y":-1.3,"l":-1.4,"h":-1.2},{"c":4,"s":"g","x":181,"y":-1.3,"l":-1.4,"h":-1.2},{"c":4,"s":"g","x":182,"y":-1.3,"l":-1.4,"h":0.05},{"c":4,"s":"g","x":183,"y":-1.3,"l":-1.4,"h":-1.2},{"c":4,"s":"g","x":196,"y":-1.3,"l":-1.4,"h":-1.2},{"c":4,"s":"g","x":197,"y":-1.3,"l":-1.4,"h":0.05},{"c":4,"s":"g","x":198,"y":-1.3,"l":-1.4,"h":-1.2},
  {"c":4,"s":"r","x":50,"y":-1.3,"l":-1.4,"h":-1.2},{"c":4,"s":"r","x":55,"y":-1.0,"l":-1.1,"h":-0.9},{"c":4,"s":"r","x":60,"y":-0.7,"l":-0.8,"h":-0.6},{"c":4,"s":"r","x":64,"y":-0.58,"l":-0.68,"h":-0.46},{"c":4,"s":"r","x":68,"y":-0.54,"l":-0.65,"h":-0.42},{"c":4,"s":"r","x":80,"y":-0.55,"l":-0.66,"h":-0.43},{"c":4,"s":"r","x":120,"y":-0.6,"l":-0.72,"h":-0.47},{"c":4,"s":"r","x":160,"y":-0.65,"l":-0.78,"h":-0.5},{"c":4,"s":"r","x":199,"y":-0.69,"l":-0.84,"h":-0.53},
  {"c":4,"s":"b","x":0,"y":-0.5},{"c":4,"s":"b","x":2,"y":-0.38},{"c":4,"s":"b","x":5,"y":-0.27},{"c":4,"s":"b","x":10,"y":-0.2},{"c":4,"s":"b","x":20,"y":-0.17},{"c":4,"s":"b","x":40,"y":-0.155},{"c":4,"s":"b","x":80,"y":-0.153},{"c":4,"s":"b","x":120,"y":-0.155},{"c":4,"s":"b","x":160,"y":-0.153},{"c":4,"s":"b","x":199,"y":-0.155},

  {"c":5,"s":"r","x":100,"y":-1.3,"l":-1.4,"h":-1.2},{"c":5,"s":"r","x":108,"y":-1.0,"l":-1.1,"h":-0.9},{"c":5,"s":"r","x":113,"y":-0.7,"l":-0.82,"h":-0.58},{"c":5,"s":"r","x":118,"y":-0.5,"l":-0.6,"h":-0.32},{"c":5,"s":"r","x":122,"y":-0.44,"l":-0.56,"h":-0.3},{"c":5,"s":"r","x":130,"y":-0.42,"l":-0.54,"h":-0.29},{"c":5,"s":"r","x":150,"y":-0.39,"l":-0.51,"h":-0.27},{"c":5,"s":"r","x":170,"y":-0.37,"l":-0.49,"h":-0.25},{"c":5,"s":"r","x":199,"y":-0.34,"l":-0.46,"h":-0.22},
  {"c":5,"s":"b","x":0,"y":-0.55},{"c":5,"s":"b","x":1,"y":-0.5},{"c":5,"s":"b","x":3,"y":-0.35},{"c":5,"s":"b","x":6,"y":-0.25},{"c":5,"s":"b","x":10,"y":-0.2},{"c":5,"s":"b","x":15,"y":-0.17},{"c":5,"s":"b","x":25,"y":-0.16},{"c":5,"s":"b","x":50,"y":-0.152},{"c":5,"s":"b","x":100,"y":-0.15},{"c":5,"s":"b","x":150,"y":-0.152},{"c":5,"s":"b","x":199,"y":-0.15},

  {"c":6,"s":"r","x":15,"y":-1.3,"l":-1.4,"h":-1.2},{"c":6,"s":"r","x":18,"y":-0.85,"l":-1.1,"h":-0.6},{"c":6,"s":"r","x":21,"y":-0.69,"l":-1.0,"h":-0.47},{"c":6,"s":"r","x":24,"y":-0.67,"l":-1.0,"h":-0.48},{"c":6,"s":"r","x":30,"y":-0.72,"l":-1.1,"h":-0.52},{"c":6,"s":"r","x":40,"y":-0.79,"l":-1.2,"h":-0.55},{"c":6,"s":"r","x":50,"y":-0.85,"l":-1.3,"h":-0.57},{"c":6,"s":"r","x":60,"y":-0.9,"l":-1.3,"h":-0.59},{"c":6,"s":"r","x":70,"y":-0.95,"l":-1.4,"h":-0.6},{"c":6,"s":"r","x":80,"y":-1.0,"l":-1.4,"h":-0.62},{"c":6,"s":"r","x":100,"y":-1.1,"l":-1.5,"h":-0.64},{"c":6,"s":"r","x":140,"y":-1.2,"l":-1.5,"h":-0.67},{"c":6,"s":"r","x":199,"y":-1.3,"l":-1.6,"h":-0.73},
  {"c":6,"s":"b","x":0,"y":-0.45},{"c":6,"s":"b","x":2,"y":-0.32},{"c":6,"s":"b","x":5,"y":-0.24},{"c":6,"s":"b","x":8,"y":-0.2},{"c":6,"s":"b","x":12,"y":-0.17},{"c":6,"s":"b","x":20,"y":-0.15},{"c":6,"s":"b","x":40,"y":-0.14},{"c":6,"s":"b","x":80,"y":-0.138},{"c":6,"s":"b","x":120,"y":-0.14},{"c":6,"s":"b","x":160,"y":-0.138},{"c":6,"s":"b","x":199,"y":-0.14},

  {"c":1,"s":"k","x":0,"y":-0.13},{"c":1,"s":"k","x":199,"y":-0.13},{"c":2,"s":"k","x":0,"y":-0.13},{"c":2,"s":"k","x":199,"y":-0.13},{"c":3,"s":"k","x":0,"y":-0.13},{"c":3,"s":"k","x":199,"y":-0.13},{"c":4,"s":"k","x":0,"y":-0.13},{"c":4,"s":"k","x":199,"y":-0.13},{"c":5,"s":"k","x":0,"y":-0.13},{"c":5,"s":"k","x":199,"y":-0.13},{"c":6,"s":"k","x":0,"y":-0.13},{"c":6,"s":"k","x":199,"y":-0.13}
 ]},
 "facet":{"column":{"field":"c","type":"ordinal","title":null,"header":null}},
 "spacing":2,
 "spec":{
  "width":130,"height":75,
  "encoding":{"x":{"field":"x","type":"quantitative","scale":{"domain":[0,199],"nice":false,"zero":false},"axis":{"values":[0,40,80,120,160],"labels":false,"title":null,"minExtent":3.5,"maxExtent":3.5}}},
  "layer":[
   {"transform":[{"filter":"isValid(datum.l)"}],"mark":{"type":"area","clip":true,"opacity":0.2},
    "encoding":{"y":{"field":"l","type":"quantitative","title":"Reacher","scale":{"domain":[-1,0],"nice":false,"zero":false},"axis":{"values":[-1,-0.5,0],"labelExpr":"replace(format(datum.value,'.1f'),'-','−')","minExtent":24,"maxExtent":24,"titlePadding":1,"labelPadding":2,"labelOverlap":false,"labelBound":false,"labelFlush":false}},"y2":{"field":"h"},
     "color":{"field":"s","type":"nominal","scale":{"domain":["g","r","b"],"range":["#008000","#ff0000","#0000ff"]},"legend":null}}},
   {"transform":[{"filter":"datum.s!='k'"}],"mark":{"type":"line","clip":true,"strokeWidth":1.2},
    "encoding":{"y":{"field":"y","type":"quantitative","title":"Reacher","axis":{"values":[-1,-0.5,0],"labelExpr":"replace(format(datum.value,'.1f'),'-','−')","minExtent":24,"maxExtent":24,"titlePadding":1,"labelPadding":2,"labelOverlap":false,"labelBound":false,"labelFlush":false}},"color":{"field":"s","type":"nominal","legend":null}}},
   {"transform":[{"filter":"datum.s=='k'"}],"mark":{"type":"line","clip":true,"color":"#000000","strokeDash":[4,3],"strokeWidth":1.2},
    "encoding":{"y":{"field":"y","type":"quantitative","title":"Reacher","axis":{"values":[-1,-0.5,0],"labelExpr":"replace(format(datum.value,'.1f'),'-','−')","minExtent":24,"maxExtent":24,"titlePadding":1,"labelPadding":2,"labelOverlap":false,"labelBound":false,"labelFlush":false}}}}
  ]
 }
},
{
 "data":{"values":[
  {"c":1,"s":"g","x":0,"y":0.5,"l":0.4,"h":0.6},{"c":1,"s":"g","x":5,"y":0.85,"l":0.7,"h":0.95},{"c":1,"s":"g","x":8,"y":0.93,"l":0.8,"h":1.0},{"c":1,"s":"g","x":12,"y":0.88,"l":0.75,"h":0.98},{"c":1,"s":"g","x":16,"y":0.93,"l":0.7,"h":1.0},{"c":1,"s":"g","x":20,"y":0.75,"l":0.6,"h":0.95},{"c":1,"s":"g","x":24,"y":0.92,"l":0.65,"h":1.05},{"c":1,"s":"g","x":28,"y":0.7,"l":0.55,"h":0.95},{"c":1,"s":"g","x":32,"y":0.9,"l":0.6,"h":1.05},{"c":1,"s":"g","x":36,"y":0.75,"l":0.55,"h":0.95},{"c":1,"s":"g","x":40,"y":0.85,"l":0.55,"h":1.0},{"c":1,"s":"g","x":44,"y":0.65,"l":0.5,"h":0.95},{"c":1,"s":"g","x":48,"y":0.8,"l":0.52,"h":0.98},{"c":1,"s":"g","x":52,"y":0.7,"l":0.5,"h":0.95},{"c":1,"s":"g","x":56,"y":0.78,"l":0.5,"h":0.98},{"c":1,"s":"g","x":60,"y":0.72,"l":0.5,"h":0.95},{"c":1,"s":"g","x":64,"y":0.68,"l":0.48,"h":0.92},{"c":1,"s":"g","x":68,"y":0.72,"l":0.5,"h":0.95},{"c":1,"s":"g","x":72,"y":0.7,"l":0.48,"h":0.92},{"c":1,"s":"g","x":76,"y":0.6,"l":0.45,"h":0.9},{"c":1,"s":"g","x":80,"y":0.75,"l":0.5,"h":0.95},{"c":1,"s":"g","x":84,"y":0.55,"l":0.45,"h":0.9},{"c":1,"s":"g","x":88,"y":0.72,"l":0.48,"h":1.0},{"c":1,"s":"g","x":92,"y":0.5,"l":0.42,"h":0.95},{"c":1,"s":"g","x":96,"y":0.8,"l":0.5,"h":1.05},{"c":1,"s":"g","x":100,"y":0.65,"l":0.45,"h":1.0},{"c":1,"s":"g","x":104,"y":0.4,"l":0.4,"h":0.95},{"c":1,"s":"g","x":108,"y":0.55,"l":0.42,"h":1.05},{"c":1,"s":"g","x":112,"y":0.75,"l":0.45,"h":1.1},{"c":1,"s":"g","x":116,"y":0.6,"l":0.42,"h":1.0},{"c":1,"s":"g","x":120,"y":0.9,"l":0.5,"h":1.15},{"c":1,"s":"g","x":124,"y":0.5,"l":0.4,"h":1.0},{"c":1,"s":"g","x":128,"y":0.85,"l":0.48,"h":1.1},{"c":1,"s":"g","x":132,"y":0.6,"l":0.42,"h":1.05},{"c":1,"s":"g","x":136,"y":0.95,"l":0.5,"h":1.15},{"c":1,"s":"g","x":140,"y":0.45,"l":0.4,"h":1.0},{"c":1,"s":"g","x":144,"y":0.8,"l":0.45,"h":1.1},{"c":1,"s":"g","x":148,"y":0.6,"l":0.42,"h":1.05},{"c":1,"s":"g","x":152,"y":1.0,"l":0.5,"h":1.2},{"c":1,"s":"g","x":156,"y":0.4,"l":0.38,"h":1.05},{"c":1,"s":"g","x":160,"y":0.9,"l":0.45,"h":1.15},{"c":1,"s":"g","x":164,"y":0.55,"l":0.4,"h":1.1},{"c":1,"s":"g","x":168,"y":0.95,"l":0.45,"h":1.2},{"c":1,"s":"g","x":172,"y":0.6,"l":0.4,"h":1.15},{"c":1,"s":"g","x":176,"y":1.1,"l":0.5,"h":1.25},{"c":1,"s":"g","x":180,"y":0.7,"l":0.42,"h":1.2},{"c":1,"s":"g","x":184,"y":1.25,"l":0.55,"h":1.3},{"c":1,"s":"g","x":188,"y":0.9,"l":0.45,"h":1.25},{"c":1,"s":"g","x":192,"y":1.3,"l":0.6,"h":1.3},{"c":1,"s":"g","x":196,"y":1.1,"l":0.5,"h":1.3},{"c":1,"s":"g","x":199,"y":1.25,"l":0.6,"h":1.3},
  {"c":1,"s":"r","x":0,"y":0.3,"l":0.29,"h":0.31},{"c":1,"s":"r","x":4,"y":0.4,"l":0.38,"h":0.42},{"c":1,"s":"r","x":6,"y":0.6,"l":0.58,"h":0.62},{"c":1,"s":"r","x":8,"y":0.88,"l":0.86,"h":0.9},{"c":1,"s":"r","x":12,"y":0.86,"l":0.84,"h":0.88},{"c":1,"s":"r","x":15,"y":0.82,"l":0.8,"h":0.84},{"c":1,"s":"r","x":17,"y":0.8,"l":0.78,"h":0.82},{"c":1,"s":"r","x":21,"y":0.83,"l":0.81,"h":0.85},{"c":1,"s":"r","x":25,"y":0.88,"l":0.86,"h":0.9},{"c":1,"s":"r","x":30,"y":0.93,"l":0.91,"h":0.95},{"c":1,"s":"r","x":35,"y":0.98,"l":0.96,"h":1.0},{"c":1,"s":"r","x":40,"y":1.04,"l":1.02,"h":1.06},{"c":1,"s":"r","x":43,"y":1.06,"l":1.04,"h":1.08},{"c":1,"s":"r","x":46,"y":0.99,"l":0.97,"h":1.01},{"c":1,"s":"r","x":48,"y":0.94,"l":0.92,"h":0.96},{"c":1,"s":"r","x":52,"y":0.97,"l":0.96,"h":0.98},{"c":1,"s":"r","x":56,"y":0.99,"l":0.985,"h":0.995},{"c":1,"s":"r","x":80,"y":0.99,"l":0.985,"h":0.995},{"c":1,"s":"r","x":140,"y":0.99,"l":0.985,"h":0.995},{"c":1,"s":"r","x":199,"y":0.99,"l":0.985,"h":0.995},
  {"c":1,"s":"b","x":0,"y":0.5,"l":0.5,"h":0.5},{"c":1,"s":"b","x":1,"y":0.5,"l":0.5,"h":0.5},{"c":1,"s":"b","x":2,"y":0.89,"l":0.875,"h":0.905},{"c":1,"s":"b","x":5,"y":0.905,"l":0.89,"h":0.92},{"c":1,"s":"b","x":10,"y":0.91,"l":0.895,"h":0.925},{"c":1,"s":"b","x":20,"y":0.905,"l":0.89,"h":0.92},{"c":1,"s":"b","x":30,"y":0.9,"l":0.885,"h":0.915},{"c":1,"s":"b","x":40,"y":0.885,"l":0.87,"h":0.9},{"c":1,"s":"b","x":50,"y":0.875,"l":0.86,"h":0.89},{"c":1,"s":"b","x":60,"y":0.87,"l":0.855,"h":0.885},{"c":1,"s":"b","x":70,"y":0.865,"l":0.85,"h":0.88},{"c":1,"s":"b","x":80,"y":0.868,"l":0.853,"h":0.883},{"c":1,"s":"b","x":90,"y":0.86,"l":0.845,"h":0.875},{"c":1,"s":"b","x":100,"y":0.862,"l":0.847,"h":0.877},{"c":1,"s":"b","x":110,"y":0.858,"l":0.843,"h":0.873},{"c":1,"s":"b","x":120,"y":0.855,"l":0.84,"h":0.87},{"c":1,"s":"b","x":130,"y":0.858,"l":0.843,"h":0.873},{"c":1,"s":"b","x":138,"y":0.848,"l":0.833,"h":0.863},{"c":1,"s":"b","x":145,"y":0.83,"l":0.815,"h":0.845},{"c":1,"s":"b","x":150,"y":0.845,"l":0.83,"h":0.86},{"c":1,"s":"b","x":160,"y":0.852,"l":0.837,"h":0.867},{"c":1,"s":"b","x":170,"y":0.858,"l":0.843,"h":0.873},{"c":1,"s":"b","x":180,"y":0.856,"l":0.841,"h":0.871},{"c":1,"s":"b","x":190,"y":0.86,"l":0.845,"h":0.875},{"c":1,"s":"b","x":199,"y":0.862,"l":0.847,"h":0.877},

  {"c":2,"s":"g","x":0,"y":0.5,"l":0.45,"h":0.6},{"c":2,"s":"g","x":4,"y":0.95,"l":0.45,"h":1.1},{"c":2,"s":"g","x":8,"y":0.6,"l":0.45,"h":1.12},{"c":2,"s":"g","x":12,"y":1.3,"l":0.45,"h":1.15},{"c":2,"s":"g","x":16,"y":0.7,"l":0.45,"h":1.12},{"c":2,"s":"g","x":20,"y":0.4,"l":0.42,"h":1.1},{"c":2,"s":"g","x":24,"y":0.9,"l":0.45,"h":1.15},{"c":2,"s":"g","x":28,"y":0.75,"l":0.45,"h":1.12},{"c":2,"s":"g","x":32,"y":1.3,"l":0.48,"h":1.18},{"c":2,"s":"g","x":36,"y":0.65,"l":0.45,"h":1.12},{"c":2,"s":"g","x":40,"y":0.85,"l":0.42,"h":1.1},{"c":2,"s":"g","x":44,"y":0.4,"l":0.45,"h":1.12},{"c":2,"s":"g","x":48,"y":0.95,"l":0.48,"h":1.18},{"c":2,"s":"g","x":52,"y":0.7,"l":0.45,"h":1.12},{"c":2,"s":"g","x":56,"y":1.3,"l":0.42,"h":1.1},{"c":2,"s":"g","x":60,"y":0.6,"l":0.45,"h":1.12},{"c":2,"s":"g","x":64,"y":0.8,"l":0.42,"h":1.1},{"c":2,"s":"g","x":68,"y":0.45,"l":0.48,"h":1.18},{"c":2,"s":"g","x":72,"y":1.0,"l":0.45,"h":1.12},{"c":2,"s":"g","x":76,"y":0.7,"l":0.45,"h":1.12},{"c":2,"s":"g","x":80,"y":1.3,"l":0.42,"h":1.1},{"c":2,"s":"g","x":84,"y":0.55,"l":0.45,"h":1.15},{"c":2,"s":"g","x":88,"y":0.9,"l":0.45,"h":1.12},{"c":2,"s":"g","x":92,"y":0.65,"l":0.45,"h":1.12},{"c":2,"s":"g","x":96,"y":1.3,"l":0.42,"h":1.1},{"c":2,"s":"g","x":100,"y":0.4,"l":0.48,"h":1.18},{"c":2,"s":"g","x":104,"y":0.85,"l":0.45,"h":1.12},{"c":2,"s":"g","x":108,"y":0.7,"l":0.45,"h":1.12},{"c":2,"s":"g","x":112,"y":1.3,"l":0.42,"h":1.1},{"c":2,"s":"g","x":116,"y":0.6,"l":0.48,"h":1.18},{"c":2,"s":"g","x":120,"y":0.9,"l":0.45,"h":1.12},{"c":2,"s":"g","x":124,"y":0.45,"l":0.45,"h":1.15},{"c":2,"s":"g","x":128,"y":1.1,"l":0.42,"h":1.1},{"c":2,"s":"g","x":132,"y":0.7,"l":0.45,"h":1.12},{"c":2,"s":"g","x":136,"y":1.3,"l":0.48,"h":1.18},{"c":2,"s":"g","x":140,"y":0.5,"l":0.45,"h":1.12},{"c":2,"s":"g","x":144,"y":0.85,"l":0.42,"h":1.1},{"c":2,"s":"g","x":148,"y":0.65,"l":0.45,"h":1.12},{"c":2,"s":"g","x":152,"y":1.3,"l":0.48,"h":1.18},{"c":2,"s":"g","x":156,"y":0.4,"l":0.45,"h":1.12},{"c":2,"s":"g","x":160,"y":0.95,"l":0.42,"h":1.1},{"c":2,"s":"g","x":164,"y":0.7,"l":0.45,"h":1.15},{"c":2,"s":"g","x":168,"y":1.3,"l":0.45,"h":1.12},{"c":2,"s":"g","x":172,"y":0.55,"l":0.48,"h":1.18},{"c":2,"s":"g","x":176,"y":0.9,"l":0.45,"h":1.12},{"c":2,"s":"g","x":180,"y":0.4,"l":0.42,"h":1.1},{"c":2,"s":"g","x":184,"y":1.3,"l":0.45,"h":1.12},{"c":2,"s":"g","x":188,"y":0.7,"l":0.48,"h":1.18},{"c":2,"s":"g","x":192,"y":1.0,"l":0.45,"h":1.12},{"c":2,"s":"g","x":196,"y":0.5,"l":0.42,"h":1.1},{"c":2,"s":"g","x":199,"y":1.2,"l":0.45,"h":1.15},
  {"c":2,"s":"r","x":0,"y":0.3,"l":0.29,"h":0.31},{"c":2,"s":"r","x":3,"y":0.5,"l":0.48,"h":0.52},{"c":2,"s":"r","x":6,"y":0.9,"l":0.87,"h":0.93},{"c":2,"s":"r","x":10,"y":0.95,"l":0.92,"h":0.98},{"c":2,"s":"r","x":15,"y":1.0,"l":0.97,"h":1.03},{"c":2,"s":"r","x":20,"y":1.07,"l":1.03,"h":1.11},{"c":2,"s":"r","x":23,"y":1.1,"l":1.06,"h":1.14},{"c":2,"s":"r","x":26,"y":1.05,"l":1.0,"h":1.09},{"c":2,"s":"r","x":29,"y":0.98,"l":0.96,"h":1.0},{"c":2,"s":"r","x":33,"y":0.965,"l":0.955,"h":0.975},{"c":2,"s":"r","x":40,"y":0.975,"l":0.965,"h":0.985},{"c":2,"s":"r","x":80,"y":0.98,"l":0.97,"h":0.99},{"c":2,"s":"r","x":120,"y":0.985,"l":0.975,"h":0.995},{"c":2,"s":"r","x":199,"y":0.985,"l":0.975,"h":0.995},
  {"c":2,"s":"b","x":0,"y":0.5,"l":0.5,"h":0.5},{"c":2,"s":"b","x":1,"y":0.5,"l":0.5,"h":0.5},{"c":2,"s":"b","x":2,"y":0.82,"l":0.808,"h":0.832},{"c":2,"s":"b","x":10,"y":0.82,"l":0.808,"h":0.832},{"c":2,"s":"b","x":20,"y":0.82,"l":0.808,"h":0.832},{"c":2,"s":"b","x":25,"y":0.826,"l":0.814,"h":0.838},{"c":2,"s":"b","x":30,"y":0.82,"l":0.808,"h":0.832},{"c":2,"s":"b","x":40,"y":0.81,"l":0.798,"h":0.822},{"c":2,"s":"b","x":50,"y":0.8,"l":0.788,"h":0.812},{"c":2,"s":"b","x":60,"y":0.805,"l":0.793,"h":0.817},{"c":2,"s":"b","x":70,"y":0.8,"l":0.788,"h":0.812},{"c":2,"s":"b","x":80,"y":0.806,"l":0.794,"h":0.818},{"c":2,"s":"b","x":90,"y":0.8,"l":0.788,"h":0.812},{"c":2,"s":"b","x":100,"y":0.805,"l":0.793,"h":0.817},{"c":2,"s":"b","x":110,"y":0.8,"l":0.788,"h":0.812},{"c":2,"s":"b","x":120,"y":0.806,"l":0.794,"h":0.818},{"c":2,"s":"b","x":130,"y":0.8,"l":0.788,"h":0.812},{"c":2,"s":"b","x":140,"y":0.795,"l":0.783,"h":0.807},{"c":2,"s":"b","x":150,"y":0.8,"l":0.788,"h":0.812},{"c":2,"s":"b","x":160,"y":0.805,"l":0.793,"h":0.817},{"c":2,"s":"b","x":170,"y":0.8,"l":0.788,"h":0.812},{"c":2,"s":"b","x":180,"y":0.806,"l":0.794,"h":0.818},{"c":2,"s":"b","x":199,"y":0.806,"l":0.794,"h":0.818},

  {"c":3,"s":"g","x":0,"y":1.2,"l":0.9,"h":1.25},{"c":3,"s":"g","x":3,"y":1.15,"l":0.85,"h":1.22},{"c":3,"s":"g","x":6,"y":0.95,"l":0.75,"h":1.18},{"c":3,"s":"g","x":9,"y":1.12,"l":0.78,"h":1.2},{"c":3,"s":"g","x":12,"y":0.9,"l":0.72,"h":1.15},{"c":3,"s":"g","x":15,"y":1.05,"l":0.75,"h":1.18},{"c":3,"s":"g","x":18,"y":0.85,"l":0.7,"h":1.12},{"c":3,"s":"g","x":21,"y":1.1,"l":0.75,"h":1.2},{"c":3,"s":"g","x":24,"y":0.92,"l":0.72,"h":1.15},{"c":3,"s":"g","x":27,"y":1.15,"l":0.75,"h":1.2},{"c":3,"s":"g","x":30,"y":0.88,"l":0.7,"h":1.12},{"c":3,"s":"g","x":33,"y":1.05,"l":0.72,"h":1.18},{"c":3,"s":"g","x":36,"y":0.95,"l":0.7,"h":1.15},{"c":3,"s":"g","x":39,"y":1.1,"l":0.72,"h":1.2},{"c":3,"s":"g","x":42,"y":0.85,"l":0.68,"h":1.12},{"c":3,"s":"g","x":45,"y":1.0,"l":0.7,"h":1.15},{"c":3,"s":"g","x":48,"y":0.92,"l":0.7,"h":1.12},{"c":3,"s":"g","x":51,"y":1.08,"l":0.72,"h":1.18},{"c":3,"s":"g","x":54,"y":0.88,"l":0.68,"h":1.1},{"c":3,"s":"g","x":57,"y":1.02,"l":0.72,"h":1.15},{"c":3,"s":"g","x":60,"y":0.93,"l":0.7,"h":1.12},{"c":3,"s":"g","x":63,"y":1.05,"l":0.72,"h":1.15},{"c":3,"s":"g","x":66,"y":0.9,"l":0.7,"h":1.1},{"c":3,"s":"g","x":69,"y":1.0,"l":0.72,"h":1.12},{"c":3,"s":"g","x":72,"y":0.95,"l":0.72,"h":1.12},{"c":3,"s":"g","x":75,"y":1.06,"l":0.75,"h":1.15},{"c":3,"s":"g","x":78,"y":0.88,"l":0.72,"h":1.1},{"c":3,"s":"g","x":81,"y":1.0,"l":0.75,"h":1.12},{"c":3,"s":"g","x":84,"y":0.93,"l":0.75,"h":1.1},{"c":3,"s":"g","x":87,"y":1.04,"l":0.77,"h":1.12},{"c":3,"s":"g","x":90,"y":0.9,"l":0.75,"h":1.08},{"c":3,"s":"g","x":93,"y":0.98,"l":0.77,"h":1.1},{"c":3,"s":"g","x":96,"y":0.94,"l":0.77,"h":1.1},{"c":3,"s":"g","x":99,"y":1.05,"l":0.78,"h":1.12},{"c":3,"s":"g","x":102,"y":0.9,"l":0.75,"h":1.08},{"c":3,"s":"g","x":105,"y":0.99,"l":0.78,"h":1.1},{"c":3,"s":"g","x":108,"y":0.93,"l":0.77,"h":1.08},{"c":3,"s":"g","x":111,"y":1.03,"l":0.78,"h":1.12},{"c":3,"s":"g","x":114,"y":0.89,"l":0.75,"h":1.08},{"c":3,"s":"g","x":117,"y":0.98,"l":0.78,"h":1.1},{"c":3,"s":"g","x":120,"y":0.94,"l":0.77,"h":1.1},{"c":3,"s":"g","x":123,"y":1.04,"l":0.78,"h":1.12},{"c":3,"s":"g","x":126,"y":0.9,"l":0.75,"h":1.08},{"c":3,"s":"g","x":129,"y":0.97,"l":0.77,"h":1.1},{"c":3,"s":"g","x":132,"y":0.93,"l":0.76,"h":1.08},{"c":3,"s":"g","x":135,"y":1.02,"l":0.78,"h":1.12},{"c":3,"s":"g","x":138,"y":0.88,"l":0.74,"h":1.06},{"c":3,"s":"g","x":141,"y":0.98,"l":0.77,"h":1.1},{"c":3,"s":"g","x":144,"y":0.92,"l":0.76,"h":1.08},{"c":3,"s":"g","x":147,"y":1.04,"l":0.78,"h":1.12},{"c":3,"s":"g","x":150,"y":0.9,"l":0.75,"h":1.08},{"c":3,"s":"g","x":153,"y":0.97,"l":0.77,"h":1.1},{"c":3,"s":"g","x":156,"y":0.92,"l":0.76,"h":1.08},{"c":3,"s":"g","x":159,"y":1.03,"l":0.78,"h":1.12},{"c":3,"s":"g","x":162,"y":0.89,"l":0.75,"h":1.06},{"c":3,"s":"g","x":165,"y":0.96,"l":0.77,"h":1.1},{"c":3,"s":"g","x":168,"y":0.91,"l":0.76,"h":1.08},{"c":3,"s":"g","x":171,"y":1.02,"l":0.78,"h":1.12},{"c":3,"s":"g","x":174,"y":0.88,"l":0.74,"h":1.06},{"c":3,"s":"g","x":177,"y":0.95,"l":0.77,"h":1.1},{"c":3,"s":"g","x":180,"y":0.91,"l":0.76,"h":1.08},{"c":3,"s":"g","x":183,"y":1.05,"l":0.78,"h":1.12},{"c":3,"s":"g","x":186,"y":0.9,"l":0.75,"h":1.08},{"c":3,"s":"g","x":189,"y":0.97,"l":0.77,"h":1.1},{"c":3,"s":"g","x":192,"y":0.92,"l":0.76,"h":1.08},{"c":3,"s":"g","x":195,"y":1.08,"l":0.78,"h":1.15},{"c":3,"s":"g","x":199,"y":0.93,"l":0.76,"h":1.1},
  {"c":3,"s":"r","x":15,"y":0.35,"l":0.33,"h":0.37},{"c":3,"s":"r","x":21,"y":0.5,"l":0.45,"h":0.55},{"c":3,"s":"r","x":25,"y":0.7,"l":0.6,"h":0.82},{"c":3,"s":"r","x":29,"y":0.88,"l":0.75,"h":1.0},{"c":3,"s":"r","x":32,"y":0.94,"l":0.7,"h":1.15},{"c":3,"s":"r","x":35,"y":0.88,"l":0.6,"h":1.2},{"c":3,"s":"r","x":39,"y":0.76,"l":0.52,"h":1.22},{"c":3,"s":"r","x":42,"y":0.72,"l":0.5,"h":1.25},{"c":3,"s":"r","x":46,"y":0.8,"l":0.52,"h":1.15},{"c":3,"s":"r","x":52,"y":0.9,"l":0.6,"h":1.05},{"c":3,"s":"r","x":55.5,"y":0.91,"l":0.7,"h":1.0},{"c":3,"s":"r","x":60,"y":0.82,"l":0.62,"h":0.95},{"c":3,"s":"r","x":65,"y":0.74,"l":0.63,"h":0.85},{"c":3,"s":"r","x":70,"y":0.71,"l":0.65,"h":0.78},{"c":3,"s":"r","x":78,"y":0.73,"l":0.68,"h":0.78},{"c":3,"s":"r","x":88,"y":0.756,"l":0.71,"h":0.8},{"c":3,"s":"r","x":100,"y":0.765,"l":0.73,"h":0.8},{"c":3,"s":"r","x":118,"y":0.787,"l":0.76,"h":0.815},{"c":3,"s":"r","x":140,"y":0.82,"l":0.8,"h":0.84},{"c":3,"s":"r","x":169,"y":0.865,"l":0.85,"h":0.88},{"c":3,"s":"r","x":199,"y":0.895,"l":0.88,"h":0.91},
  {"c":3,"s":"b","x":0,"y":0.5,"l":0.5,"h":0.5},{"c":3,"s":"b","x":1,"y":0.5,"l":0.5,"h":0.5},{"c":3,"s":"b","x":2,"y":0.95,"l":0.94,"h":0.96},{"c":3,"s":"b","x":4,"y":0.96,"l":0.95,"h":0.97},{"c":3,"s":"b","x":8,"y":0.955,"l":0.945,"h":0.965},{"c":3,"s":"b","x":20,"y":0.957,"l":0.947,"h":0.967},{"c":3,"s":"b","x":30,"y":0.953,"l":0.943,"h":0.963},{"c":3,"s":"b","x":40,"y":0.956,"l":0.946,"h":0.966},{"c":3,"s":"b","x":50,"y":0.952,"l":0.942,"h":0.962},{"c":3,"s":"b","x":60,"y":0.953,"l":0.943,"h":0.963},{"c":3,"s":"b","x":70,"y":0.949,"l":0.939,"h":0.959},{"c":3,"s":"b","x":80,"y":0.951,"l":0.941,"h":0.961},{"c":3,"s":"b","x":90,"y":0.947,"l":0.937,"h":0.957},{"c":3,"s":"b","x":100,"y":0.948,"l":0.938,"h":0.958},{"c":3,"s":"b","x":110,"y":0.944,"l":0.934,"h":0.954},{"c":3,"s":"b","x":120,"y":0.946,"l":0.936,"h":0.956},{"c":3,"s":"b","x":130,"y":0.942,"l":0.932,"h":0.952},{"c":3,"s":"b","x":140,"y":0.941,"l":0.931,"h":0.951},{"c":3,"s":"b","x":150,"y":0.937,"l":0.927,"h":0.947},{"c":3,"s":"b","x":160,"y":0.936,"l":0.926,"h":0.946},{"c":3,"s":"b","x":170,"y":0.932,"l":0.922,"h":0.942},{"c":3,"s":"b","x":180,"y":0.933,"l":0.923,"h":0.943},{"c":3,"s":"b","x":190,"y":0.928,"l":0.918,"h":0.938},{"c":3,"s":"b","x":199,"y":0.93,"l":0.92,"h":0.94},

  {"c":4,"s":"g","x":0,"y":1.3,"l":0.45,"h":1.25},{"c":4,"s":"g","x":8,"y":1.25,"l":0.45,"h":1.25},{"c":4,"s":"g","x":14,"y":1.2,"l":0.45,"h":1.25},{"c":4,"s":"g","x":17,"y":0.4,"l":0.42,"h":1.2},{"c":4,"s":"g","x":20,"y":0.9,"l":0.45,"h":1.2},{"c":4,"s":"g","x":23,"y":1.3,"l":0.45,"h":1.25},{"c":4,"s":"g","x":26,"y":0.5,"l":0.42,"h":1.2},{"c":4,"s":"g","x":29,"y":0.85,"l":0.45,"h":1.2},{"c":4,"s":"g","x":32,"y":1.3,"l":0.45,"h":1.25},{"c":4,"s":"g","x":35,"y":0.45,"l":0.42,"h":1.2},{"c":4,"s":"g","x":39,"y":1.0,"l":0.45,"h":1.2},{"c":4,"s":"g","x":43,"y":0.8,"l":0.45,"h":1.2},{"c":4,"s":"g","x":47,"y":1.3,"l":0.45,"h":1.25},{"c":4,"s":"g","x":51,"y":0.6,"l":0.42,"h":1.2},{"c":4,"s":"g","x":55,"y":0.9,"l":0.45,"h":1.2},{"c":4,"s":"g","x":59,"y":0.75,"l":0.45,"h":1.2},{"c":4,"s":"g","x":63,"y":1.3,"l":0.45,"h":1.25},{"c":4,"s":"g","x":67,"y":0.55,"l":0.42,"h":1.2},{"c":4,"s":"g","x":71,"y":0.8,"l":0.45,"h":1.2},{"c":4,"s":"g","x":75,"y":0.65,"l":0.45,"h":1.2},{"c":4,"s":"g","x":79,"y":1.1,"l":0.45,"h":1.25},{"c":4,"s":"g","x":83,"y":0.5,"l":0.42,"h":1.2},{"c":4,"s":"g","x":87,"y":0.95,"l":0.45,"h":1.2},{"c":4,"s":"g","x":91,"y":0.7,"l":0.45,"h":1.2},{"c":4,"s":"g","x":95,"y":1.3,"l":0.45,"h":1.25},{"c":4,"s":"g","x":99,"y":0.6,"l":0.42,"h":1.2},{"c":4,"s":"g","x":103,"y":0.85,"l":0.45,"h":1.2},{"c":4,"s":"g","x":107,"y":0.4,"l":0.42,"h":1.2},{"c":4,"s":"g","x":111,"y":1.0,"l":0.45,"h":1.2},{"c":4,"s":"g","x":115,"y":0.7,"l":0.45,"h":1.2},{"c":4,"s":"g","x":119,"y":1.3,"l":0.45,"h":1.25},{"c":4,"s":"g","x":123,"y":0.55,"l":0.42,"h":1.2},{"c":4,"s":"g","x":127,"y":0.9,"l":0.45,"h":1.2},{"c":4,"s":"g","x":131,"y":0.65,"l":0.45,"h":1.2},{"c":4,"s":"g","x":135,"y":1.2,"l":0.45,"h":1.25},{"c":4,"s":"g","x":139,"y":0.45,"l":0.42,"h":1.2},{"c":4,"s":"g","x":143,"y":0.95,"l":0.45,"h":1.2},{"c":4,"s":"g","x":147,"y":0.7,"l":0.45,"h":1.2},{"c":4,"s":"g","x":151,"y":1.3,"l":0.45,"h":1.25},{"c":4,"s":"g","x":155,"y":0.6,"l":0.42,"h":1.2},{"c":4,"s":"g","x":159,"y":0.85,"l":0.45,"h":1.2},{"c":4,"s":"g","x":163,"y":0.4,"l":0.42,"h":1.2},{"c":4,"s":"g","x":167,"y":1.1,"l":0.45,"h":1.25},{"c":4,"s":"g","x":171,"y":0.75,"l":0.45,"h":1.2},{"c":4,"s":"g","x":175,"y":0.95,"l":0.45,"h":1.2},{"c":4,"s":"g","x":179,"y":0.5,"l":0.42,"h":1.2},{"c":4,"s":"g","x":183,"y":1.3,"l":0.45,"h":1.25},{"c":4,"s":"g","x":187,"y":0.7,"l":0.45,"h":1.2},{"c":4,"s":"g","x":191,"y":1.0,"l":0.45,"h":1.2},{"c":4,"s":"g","x":195,"y":0.6,"l":0.42,"h":1.2},{"c":4,"s":"g","x":199,"y":0.9,"l":0.45,"h":1.2},
  {"c":4,"s":"r","x":38,"y":0.3,"l":0.3,"h":0.3},{"c":4,"s":"r","x":41,"y":0.3,"l":0.3,"h":1.25},{"c":4,"s":"r","x":44,"y":0.3,"l":0.3,"h":0.3},{"c":4,"s":"r","x":165,"y":0.4,"l":0.35,"h":0.45},{"c":4,"s":"r","x":171,"y":0.5,"l":0.45,"h":0.56},{"c":4,"s":"r","x":180,"y":0.62,"l":0.56,"h":0.68},{"c":4,"s":"r","x":186,"y":0.7,"l":0.64,"h":0.76},{"c":4,"s":"r","x":190,"y":0.72,"l":0.66,"h":0.79},{"c":4,"s":"r","x":195,"y":0.8,"l":0.74,"h":0.86},{"c":4,"s":"r","x":199,"y":0.86,"l":0.8,"h":0.92},
  {"c":4,"s":"b","x":0,"y":0.3,"l":0.3,"h":0.3},{"c":4,"s":"b","x":6,"y":0.5,"l":0.49,"h":0.51},{"c":4,"s":"b","x":10,"y":0.62,"l":0.605,"h":0.635},{"c":4,"s":"b","x":15,"y":0.72,"l":0.705,"h":0.735},{"c":4,"s":"b","x":20,"y":0.78,"l":0.765,"h":0.795},{"c":4,"s":"b","x":25,"y":0.82,"l":0.805,"h":0.835},{"c":4,"s":"b","x":30,"y":0.845,"l":0.83,"h":0.86},{"c":4,"s":"b","x":35,"y":0.86,"l":0.845,"h":0.875},{"c":4,"s":"b","x":40,"y":0.865,"l":0.85,"h":0.88},{"c":4,"s":"b","x":50,"y":0.865,"l":0.85,"h":0.88},{"c":4,"s":"b","x":60,"y":0.865,"l":0.85,"h":0.88},{"c":4,"s":"b","x":70,"y":0.86,"l":0.845,"h":0.875},{"c":4,"s":"b","x":80,"y":0.862,"l":0.847,"h":0.877},{"c":4,"s":"b","x":90,"y":0.858,"l":0.843,"h":0.873},{"c":4,"s":"b","x":100,"y":0.86,"l":0.845,"h":0.875},{"c":4,"s":"b","x":110,"y":0.856,"l":0.841,"h":0.871},{"c":4,"s":"b","x":120,"y":0.855,"l":0.84,"h":0.87},{"c":4,"s":"b","x":130,"y":0.857,"l":0.842,"h":0.872},{"c":4,"s":"b","x":140,"y":0.853,"l":0.838,"h":0.868},{"c":4,"s":"b","x":150,"y":0.855,"l":0.84,"h":0.87},{"c":4,"s":"b","x":160,"y":0.85,"l":0.835,"h":0.865},{"c":4,"s":"b","x":170,"y":0.852,"l":0.837,"h":0.867},{"c":4,"s":"b","x":180,"y":0.85,"l":0.835,"h":0.865},{"c":4,"s":"b","x":190,"y":0.852,"l":0.837,"h":0.867},{"c":4,"s":"b","x":199,"y":0.85,"l":0.835,"h":0.865},

  {"c":5,"s":"g","x":0,"y":1.3,"l":0.45,"h":1.25},{"c":5,"s":"g","x":3,"y":0.4,"l":0.45,"h":1.25},{"c":5,"s":"g","x":6,"y":1.3,"l":0.45,"h":1.25},{"c":5,"s":"g","x":9,"y":0.5,"l":0.45,"h":1.25},{"c":5,"s":"g","x":12,"y":1.3,"l":0.45,"h":1.25},{"c":5,"s":"g","x":15,"y":0.4,"l":0.45,"h":1.25},{"c":5,"s":"g","x":18,"y":1.2,"l":0.45,"h":1.25},{"c":5,"s":"g","x":21,"y":0.45,"l":0.45,"h":1.25},{"c":5,"s":"g","x":24,"y":1.3,"l":0.45,"h":1.25},{"c":5,"s":"g","x":27,"y":0.6,"l":0.45,"h":1.25},{"c":5,"s":"g","x":30,"y":1.3,"l":0.45,"h":1.25},{"c":5,"s":"g","x":33,"y":0.4,"l":0.45,"h":1.25},{"c":5,"s":"g","x":36,"y":1.0,"l":0.45,"h":1.25},{"c":5,"s":"g","x":39,"y":1.3,"l":0.45,"h":1.25},{"c":5,"s":"g","x":42,"y":0.4,"l":0.45,"h":1.25},{"c":5,"s":"g","x":45,"y":1.3,"l":0.45,"h":1.25},{"c":5,"s":"g","x":48,"y":0.5,"l":0.45,"h":1.25},{"c":5,"s":"g","x":51,"y":1.3,"l":0.45,"h":1.25},{"c":5,"s":"g","x":54,"y":0.4,"l":0.45,"h":1.25},{"c":5,"s":"g","x":57,"y":1.3,"l":0.45,"h":1.25},{"c":5,"s":"g","x":60,"y":0.7,"l":0.45,"h":1.25},{"c":5,"s":"g","x":63,"y":1.3,"l":0.45,"h":1.25},{"c":5,"s":"g","x":66,"y":0.4,"l":0.45,"h":1.25},{"c":5,"s":"g","x":69,"y":1.3,"l":0.45,"h":1.25},{"c":5,"s":"g","x":72,"y":0.45,"l":0.45,"h":1.25},{"c":5,"s":"g","x":75,"y":1.1,"l":0.45,"h":1.25},{"c":5,"s":"g","x":78,"y":0.4,"l":0.45,"h":1.25},{"c":5,"s":"g","x":81,"y":1.3,"l":0.45,"h":1.25},{"c":5,"s":"g","x":84,"y":0.5,"l":0.45,"h":1.25},{"c":5,"s":"g","x":87,"y":1.3,"l":0.45,"h":1.25},{"c":5,"s":"g","x":90,"y":0.4,"l":0.45,"h":1.25},{"c":5,"s":"g","x":93,"y":1.3,"l":0.45,"h":1.25},{"c":5,"s":"g","x":96,"y":0.6,"l":0.45,"h":1.25},{"c":5,"s":"g","x":99,"y":1.3,"l":0.45,"h":1.25},{"c":5,"s":"g","x":102,"y":0.4,"l":0.45,"h":1.25},{"c":5,"s":"g","x":105,"y":1.3,"l":0.45,"h":1.25},{"c":5,"s":"g","x":108,"y":0.45,"l":0.45,"h":1.25},{"c":5,"s":"g","x":111,"y":1.2,"l":0.45,"h":1.25},{"c":5,"s":"g","x":114,"y":0.4,"l":0.45,"h":1.25},{"c":5,"s":"g","x":117,"y":1.3,"l":0.45,"h":1.25},{"c":5,"s":"g","x":120,"y":0.5,"l":0.45,"h":1.25},{"c":5,"s":"g","x":123,"y":1.3,"l":0.45,"h":1.25},{"c":5,"s":"g","x":126,"y":0.4,"l":0.45,"h":1.25},{"c":5,"s":"g","x":129,"y":1.3,"l":0.45,"h":1.25},{"c":5,"s":"g","x":132,"y":0.7,"l":0.45,"h":1.25},{"c":5,"s":"g","x":135,"y":1.3,"l":0.45,"h":1.25},{"c":5,"s":"g","x":138,"y":0.4,"l":0.45,"h":1.25},{"c":5,"s":"g","x":141,"y":1.3,"l":0.45,"h":1.25},{"c":5,"s":"g","x":144,"y":0.5,"l":0.45,"h":1.25},{"c":5,"s":"g","x":147,"y":1.3,"l":0.45,"h":1.25},{"c":5,"s":"g","x":150,"y":0.4,"l":0.45,"h":1.25},{"c":5,"s":"g","x":153,"y":1.0,"l":0.45,"h":1.25},{"c":5,"s":"g","x":156,"y":1.3,"l":0.45,"h":1.25},{"c":5,"s":"g","x":159,"y":0.4,"l":0.45,"h":1.25},{"c":5,"s":"g","x":162,"y":1.3,"l":0.45,"h":1.25},{"c":5,"s":"g","x":165,"y":0.5,"l":0.45,"h":1.25},{"c":5,"s":"g","x":168,"y":1.3,"l":0.45,"h":1.25},{"c":5,"s":"g","x":171,"y":0.4,"l":0.45,"h":1.25},{"c":5,"s":"g","x":174,"y":1.3,"l":0.45,"h":1.25},{"c":5,"s":"g","x":177,"y":0.6,"l":0.45,"h":1.25},{"c":5,"s":"g","x":180,"y":1.3,"l":0.45,"h":1.25},{"c":5,"s":"g","x":183,"y":0.4,"l":0.45,"h":1.25},{"c":5,"s":"g","x":186,"y":1.3,"l":0.45,"h":1.25},{"c":5,"s":"g","x":189,"y":0.45,"l":0.45,"h":1.25},{"c":5,"s":"g","x":192,"y":1.3,"l":0.45,"h":1.25},{"c":5,"s":"g","x":195,"y":0.4,"l":0.45,"h":1.25},{"c":5,"s":"g","x":199,"y":1.2,"l":0.45,"h":1.25},
  {"c":5,"s":"b","x":0,"y":0.3,"l":0.3,"h":0.3},{"c":5,"s":"b","x":6,"y":0.5,"l":0.48,"h":0.52},{"c":5,"s":"b","x":10,"y":0.6,"l":0.58,"h":0.62},{"c":5,"s":"b","x":16,"y":0.69,"l":0.67,"h":0.71},{"c":5,"s":"b","x":22,"y":0.74,"l":0.72,"h":0.76},{"c":5,"s":"b","x":30,"y":0.77,"l":0.75,"h":0.79},{"c":5,"s":"b","x":42,"y":0.8,"l":0.78,"h":0.82},{"c":5,"s":"b","x":50,"y":0.82,"l":0.8,"h":0.84},{"c":5,"s":"b","x":60,"y":0.845,"l":0.825,"h":0.865},{"c":5,"s":"b","x":70,"y":0.855,"l":0.835,"h":0.875},{"c":5,"s":"b","x":80,"y":0.865,"l":0.845,"h":0.885},{"c":5,"s":"b","x":88,"y":0.87,"l":0.85,"h":0.89},{"c":5,"s":"b","x":100,"y":0.865,"l":0.845,"h":0.885},{"c":5,"s":"b","x":110,"y":0.87,"l":0.85,"h":0.89},{"c":5,"s":"b","x":120,"y":0.862,"l":0.842,"h":0.882},{"c":5,"s":"b","x":130,"y":0.868,"l":0.848,"h":0.888},{"c":5,"s":"b","x":140,"y":0.862,"l":0.842,"h":0.882},{"c":5,"s":"b","x":150,"y":0.868,"l":0.848,"h":0.888},{"c":5,"s":"b","x":160,"y":0.863,"l":0.843,"h":0.883},{"c":5,"s":"b","x":170,"y":0.868,"l":0.848,"h":0.888},{"c":5,"s":"b","x":180,"y":0.863,"l":0.843,"h":0.883},{"c":5,"s":"b","x":190,"y":0.868,"l":0.848,"h":0.888},{"c":5,"s":"b","x":199,"y":0.865,"l":0.845,"h":0.885},

  {"c":6,"s":"g","x":0,"y":1.3,"l":1.1,"h":1.35},{"c":6,"s":"g","x":3,"y":1.1,"l":0.95,"h":1.2},{"c":6,"s":"g","x":6,"y":0.95,"l":0.85,"h":1.1},{"c":6,"s":"g","x":9,"y":0.92,"l":0.83,"h":1.05},{"c":6,"s":"g","x":12,"y":0.96,"l":0.85,"h":1.08},{"c":6,"s":"g","x":15,"y":0.9,"l":0.8,"h":1.02},{"c":6,"s":"g","x":18,"y":0.95,"l":0.84,"h":1.06},{"c":6,"s":"g","x":22,"y":0.88,"l":0.78,"h":1.0},{"c":6,"s":"g","x":26,"y":0.93,"l":0.82,"h":1.05},{"c":6,"s":"g","x":30,"y":0.89,"l":0.79,"h":1.0},{"c":6,"s":"g","x":34,"y":0.94,"l":0.83,"h":1.05},{"c":6,"s":"g","x":38,"y":0.88,"l":0.78,"h":0.99},{"c":6,"s":"g","x":42,"y":0.91,"l":0.8,"h":1.02},{"c":6,"s":"g","x":46,"y":0.87,"l":0.77,"h":0.98},{"c":6,"s":"g","x":50,"y":0.92,"l":0.8,"h":1.04},{"c":6,"s":"g","x":54,"y":0.86,"l":0.76,"h":0.98},{"c":6,"s":"g","x":58,"y":0.9,"l":0.78,"h":1.02},{"c":6,"s":"g","x":62,"y":0.88,"l":0.77,"h":1.0},{"c":6,"s":"g","x":66,"y":0.93,"l":0.8,"h":1.06},{"c":6,"s":"g","x":70,"y":0.87,"l":0.75,"h":1.0},{"c":6,"s":"g","x":74,"y":0.91,"l":0.78,"h":1.05},{"c":6,"s":"g","x":78,"y":0.85,"l":0.73,"h":1.0},{"c":6,"s":"g","x":82,"y":0.89,"l":0.76,"h":1.04},{"c":6,"s":"g","x":86,"y":0.84,"l":0.72,"h":1.0},{"c":6,"s":"g","x":90,"y":0.9,"l":0.76,"h":1.08},{"c":6,"s":"g","x":94,"y":0.86,"l":0.73,"h":1.05},{"c":6,"s":"g","x":98,"y":0.89,"l":0.75,"h":1.1},{"c":6,"s":"g","x":102,"y":0.85,"l":0.72,"h":1.05},{"c":6,"s":"g","x":106,"y":0.91,"l":0.76,"h":1.08},{"c":6,"s":"g","x":110,"y":0.84,"l":0.7,"h":1.02},{"c":6,"s":"g","x":114,"y":0.9,"l":0.74,"h":1.06},{"c":6,"s":"g","x":118,"y":0.87,"l":0.72,"h":1.04},{"c":6,"s":"g","x":122,"y":0.93,"l":0.76,"h":1.08},{"c":6,"s":"g","x":126,"y":0.86,"l":0.7,"h":1.02},{"c":6,"s":"g","x":130,"y":0.88,"l":0.72,"h":1.05},{"c":6,"s":"g","x":134,"y":0.82,"l":0.68,"h":1.0},{"c":6,"s":"g","x":138,"y":0.87,"l":0.72,"h":1.04},{"c":6,"s":"g","x":142,"y":0.84,"l":0.7,"h":1.02},{"c":6,"s":"g","x":146,"y":0.9,"l":0.74,"h":1.06},{"c":6,"s":"g","x":150,"y":0.83,"l":0.68,"h":1.0},{"c":6,"s":"g","x":154,"y":0.88,"l":0.72,"h":1.05},{"c":6,"s":"g","x":158,"y":0.85,"l":0.7,"h":1.02},{"c":6,"s":"g","x":162,"y":0.9,"l":0.74,"h":1.08},{"c":6,"s":"g","x":166,"y":0.82,"l":0.67,"h":1.0},{"c":6,"s":"g","x":170,"y":0.87,"l":0.72,"h":1.05},{"c":6,"s":"g","x":174,"y":0.83,"l":0.68,"h":1.02},{"c":6,"s":"g","x":178,"y":0.88,"l":0.72,"h":1.06},{"c":6,"s":"g","x":182,"y":0.84,"l":0.68,"h":1.04},{"c":6,"s":"g","x":186,"y":0.8,"l":0.64,"h":1.0},{"c":6,"s":"g","x":190,"y":0.87,"l":0.7,"h":1.1},{"c":6,"s":"g","x":194,"y":0.83,"l":0.66,"h":1.05},{"c":6,"s":"g","x":197,"y":0.78,"l":0.6,"h":1.0},{"c":6,"s":"g","x":199,"y":0.6,"l":0.45,"h":0.9},
  {"c":6,"s":"r","x":12,"y":0.3,"l":0.29,"h":0.31},{"c":6,"s":"r","x":16,"y":0.5,"l":0.47,"h":0.53},{"c":6,"s":"r","x":20,"y":0.85,"l":0.8,"h":0.9},{"c":6,"s":"r","x":23,"y":0.93,"l":0.88,"h":0.98},{"c":6,"s":"r","x":26,"y":0.8,"l":0.74,"h":0.86},{"c":6,"s":"r","x":29,"y":0.68,"l":0.62,"h":0.74},{"c":6,"s":"r","x":31,"y":0.6,"l":0.55,"h":0.66},{"c":6,"s":"r","x":35,"y":0.64,"l":0.6,"h":0.69},{"c":6,"s":"r","x":40,"y":0.68,"l":0.64,"h":0.72},{"c":6,"s":"r","x":44,"y":0.71,"l":0.67,"h":0.75},{"c":6,"s":"r","x":50,"y":0.73,"l":0.7,"h":0.76},{"c":6,"s":"r","x":55,"y":0.75,"l":0.72,"h":0.78},{"c":6,"s":"r","x":62,"y":0.77,"l":0.74,"h":0.8},{"c":6,"s":"r","x":71,"y":0.82,"l":0.8,"h":0.84},{"c":6,"s":"r","x":80,"y":0.88,"l":0.86,"h":0.9},{"c":6,"s":"r","x":92,"y":0.95,"l":0.93,"h":0.97},{"c":6,"s":"r","x":100,"y":1.0,"l":0.98,"h":1.02},{"c":6,"s":"r","x":108,"y":1.04,"l":1.02,"h":1.06},{"c":6,"s":"r","x":112,"y":1.05,"l":1.03,"h":1.07},{"c":6,"s":"r","x":117,"y":1.01,"l":0.99,"h":1.03},{"c":6,"s":"r","x":122,"y":0.96,"l":0.945,"h":0.975},{"c":6,"s":"r","x":126,"y":0.965,"l":0.955,"h":0.975},{"c":6,"s":"r","x":140,"y":0.975,"l":0.965,"h":0.985},{"c":6,"s":"r","x":160,"y":0.98,"l":0.97,"h":0.99},{"c":6,"s":"r","x":180,"y":0.98,"l":0.97,"h":0.99},{"c":6,"s":"r","x":199,"y":0.98,"l":0.97,"h":0.99},
  {"c":6,"s":"b","x":0,"y":0.5,"l":0.5,"h":0.5},{"c":6,"s":"b","x":1,"y":0.5,"l":0.5,"h":0.5},{"c":6,"s":"b","x":2,"y":0.955,"l":0.945,"h":0.965},{"c":6,"s":"b","x":10,"y":0.957,"l":0.947,"h":0.967},{"c":6,"s":"b","x":20,"y":0.955,"l":0.945,"h":0.965},{"c":6,"s":"b","x":40,"y":0.95,"l":0.94,"h":0.96},{"c":6,"s":"b","x":60,"y":0.945,"l":0.935,"h":0.955},{"c":6,"s":"b","x":80,"y":0.94,"l":0.93,"h":0.95},{"c":6,"s":"b","x":100,"y":0.935,"l":0.925,"h":0.945},{"c":6,"s":"b","x":120,"y":0.93,"l":0.92,"h":0.94},{"c":6,"s":"b","x":140,"y":0.928,"l":0.918,"h":0.938},{"c":6,"s":"b","x":160,"y":0.925,"l":0.915,"h":0.935},{"c":6,"s":"b","x":180,"y":0.922,"l":0.912,"h":0.932},{"c":6,"s":"b","x":199,"y":0.92,"l":0.91,"h":0.93},

  {"c":1,"s":"k","x":0,"y":0.858},{"c":1,"s":"k","x":199,"y":0.858},{"c":2,"s":"k","x":0,"y":0.858},{"c":2,"s":"k","x":199,"y":0.858},{"c":3,"s":"k","x":0,"y":0.858},{"c":3,"s":"k","x":199,"y":0.858},{"c":4,"s":"k","x":0,"y":0.858},{"c":4,"s":"k","x":199,"y":0.858},{"c":5,"s":"k","x":0,"y":0.858},{"c":5,"s":"k","x":199,"y":0.858},{"c":6,"s":"k","x":0,"y":0.858},{"c":6,"s":"k","x":199,"y":0.858}
 ]},
 "facet":{"column":{"field":"c","type":"ordinal","title":"Train steps","header":{"labels":false,"titleOrient":"bottom","titlePadding":-5}}},
 "spacing":2,
 "spec":{
  "width":130,"height":75,
  "encoding":{"x":{"field":"x","type":"quantitative","scale":{"domain":[0,199],"nice":false,"zero":false},"axis":{"values":[0,40,80,120,160],"labelExpr":"datum.value + 'k'","title":null,"labelPadding":0,"labelFontSize":10,"labelFlush":false}}},
  "layer":[
   {"transform":[{"filter":"isValid(datum.l)"}],"mark":{"type":"area","clip":true,"opacity":0.2},
    "encoding":{"y":{"field":"l","type":"quantitative","title":"Cartpole","scale":{"domain":[0.5,1.2],"nice":false,"zero":false},"axis":{"values":[0.5,0.75,1.0],"format":".2f","minExtent":24,"maxExtent":24,"titlePadding":1,"labelPadding":2,"labelOverlap":false,"labelBound":false,"labelFlush":false}},"y2":{"field":"h"},
     "color":{"field":"s","type":"nominal","scale":{"domain":["g","r","b"],"range":["#008000","#ff0000","#0000ff"]},"legend":null}}},
   {"transform":[{"filter":"datum.s!='k'"}],"mark":{"type":"line","clip":true,"strokeWidth":1.2},
    "encoding":{"y":{"field":"y","type":"quantitative","title":"Cartpole","axis":{"values":[0.5,0.75,1.0],"format":".2f","minExtent":24,"maxExtent":24,"titlePadding":1,"labelPadding":2,"labelOverlap":false,"labelBound":false,"labelFlush":false}},"color":{"field":"s","type":"nominal","legend":null}}},
   {"transform":[{"filter":"datum.s=='k'"}],"mark":{"type":"line","clip":true,"color":"#000000","strokeDash":[4,3],"strokeWidth":1.2},
    "encoding":{"y":{"field":"y","type":"quantitative","title":"Cartpole","axis":{"values":[0.5,0.75,1.0],"format":".2f","minExtent":24,"maxExtent":24,"titlePadding":1,"labelPadding":2,"labelOverlap":false,"labelBound":false,"labelFlush":false}}}}
  ]
 }
}
]
}
